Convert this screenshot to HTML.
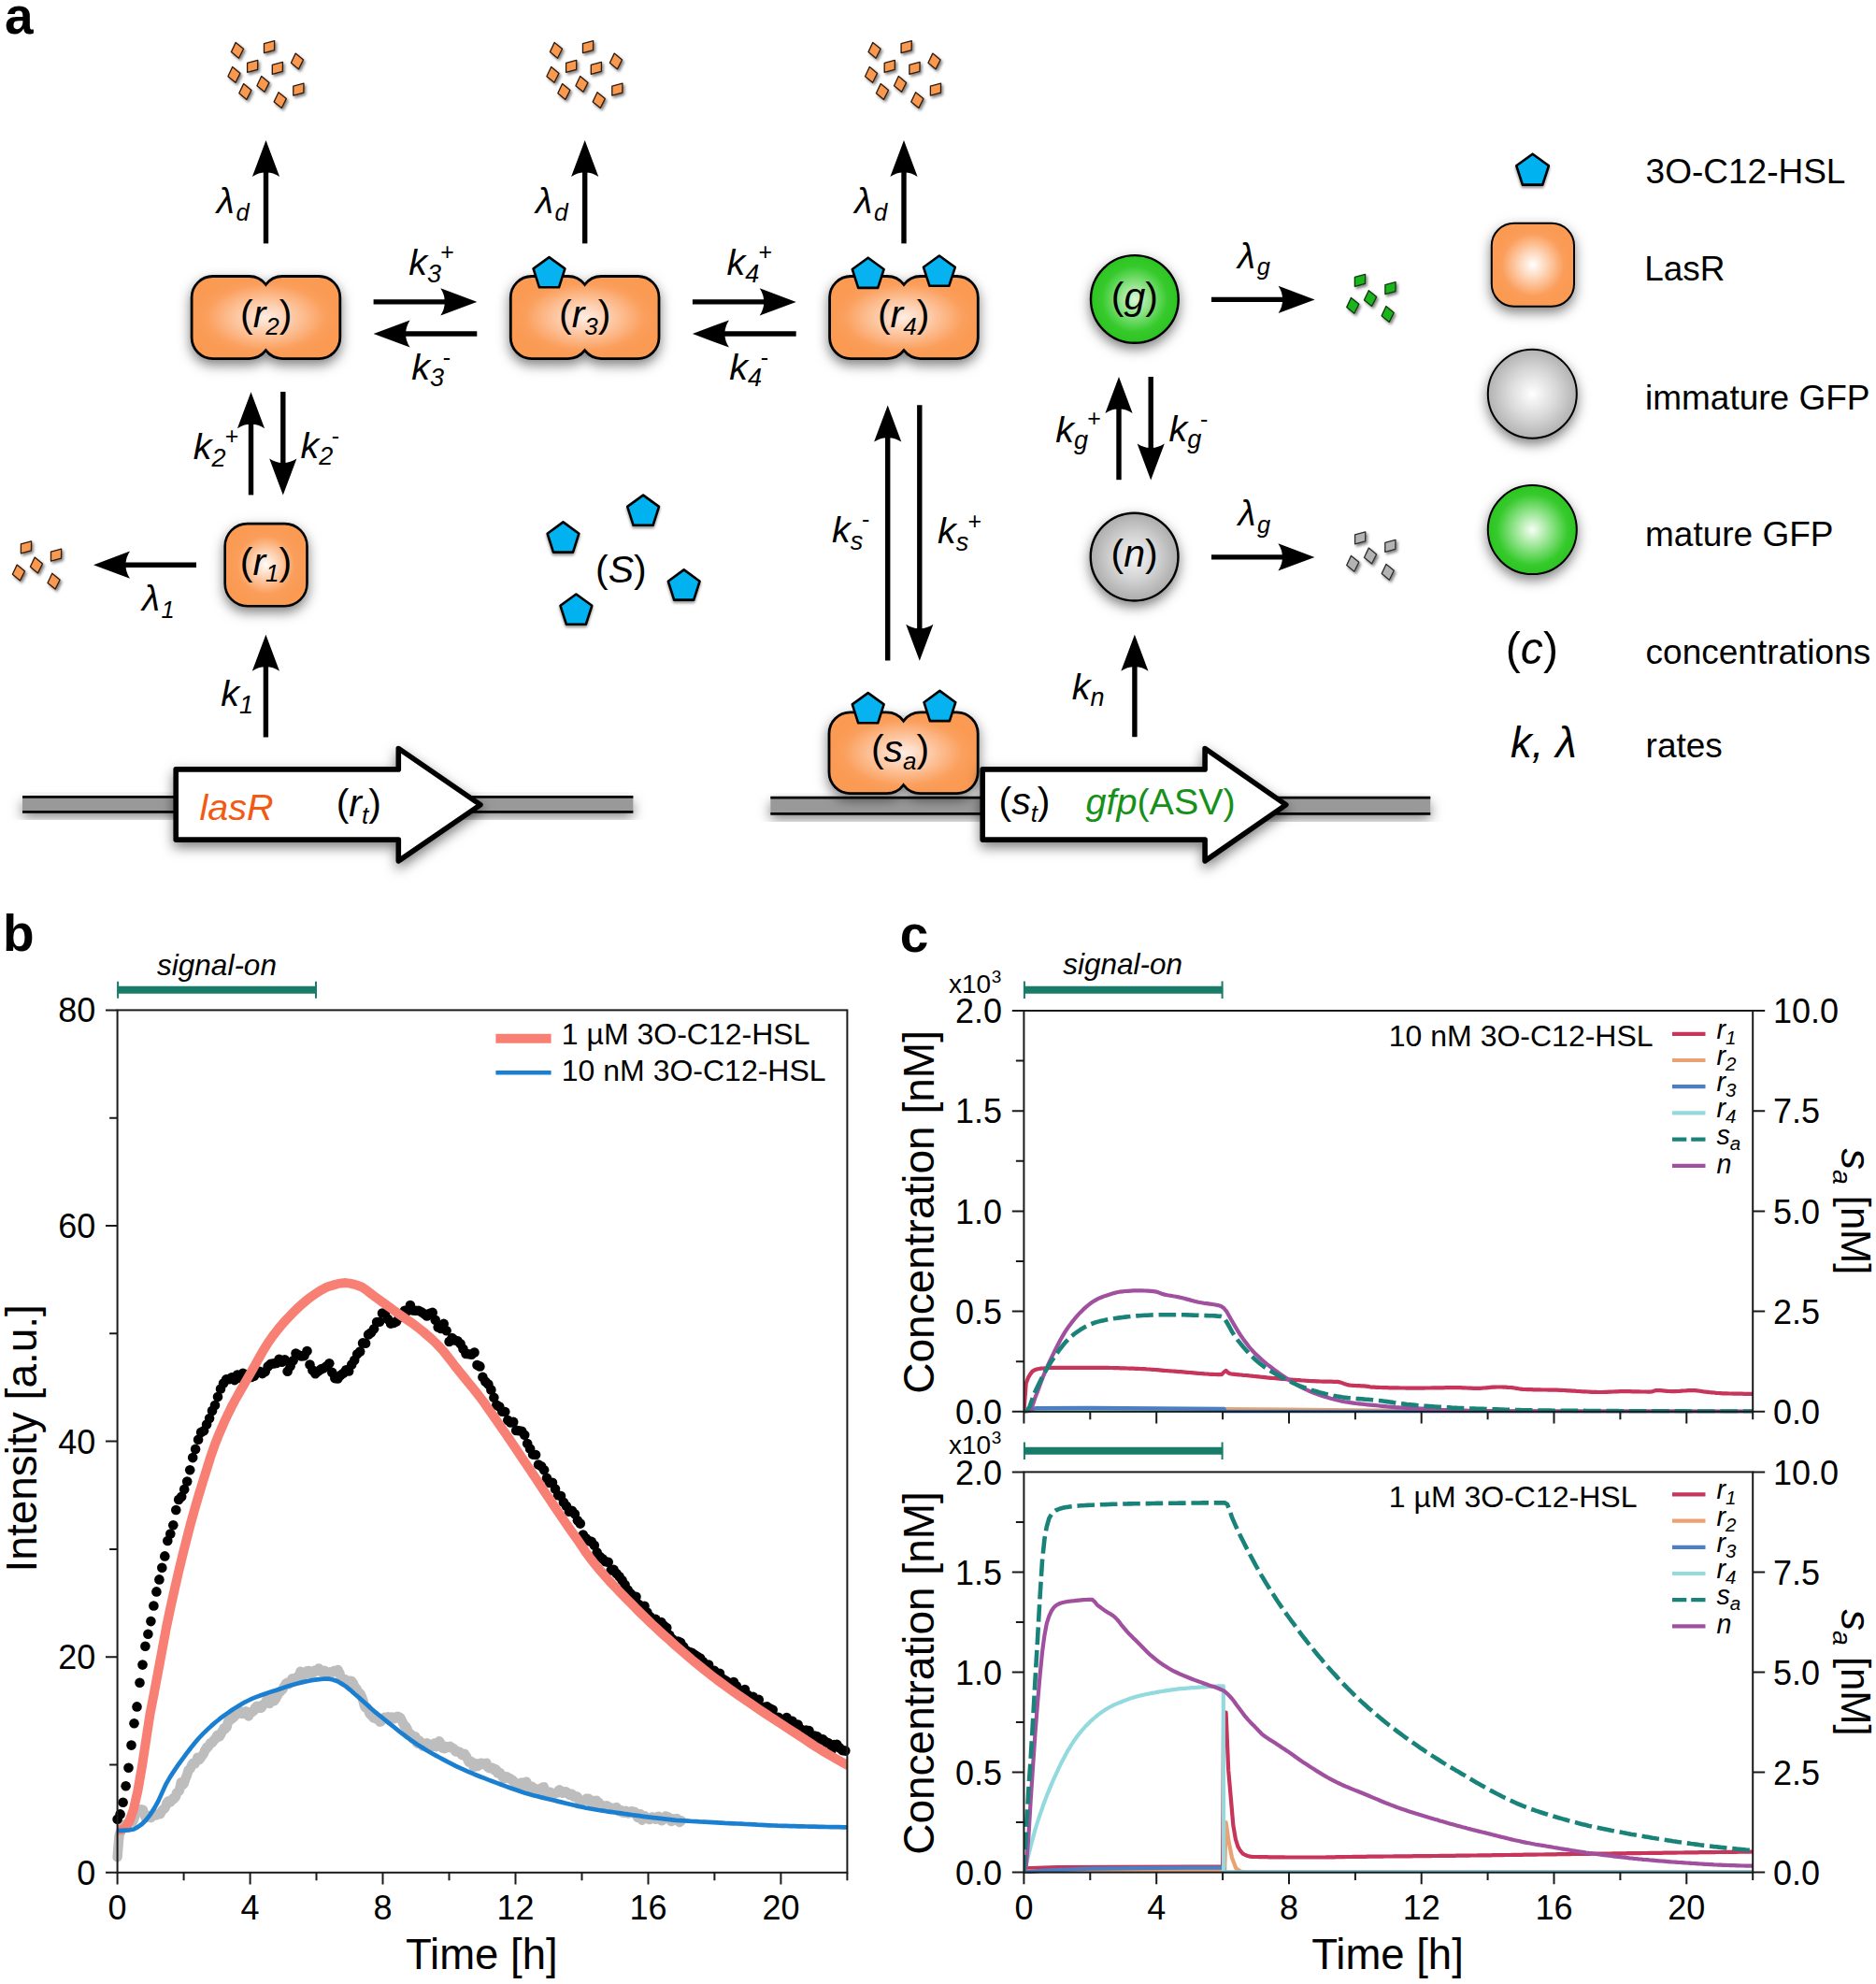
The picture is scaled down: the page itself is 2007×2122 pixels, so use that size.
<!DOCTYPE html>
<html lang="en"><head><meta charset="utf-8"><title>LasR quorum sensing model</title>
<style>html,body{margin:0;padding:0;background:#fff}svg{display:block}text{font-family:"Liberation Sans", Arial, Helvetica, sans-serif}</style>
</head><body>
<svg width="2007" height="2122" viewBox="0 0 2007 2122">
<defs>
<filter id="sh" x="-30%" y="-30%" width="160%" height="180%"><feDropShadow dx="0" dy="5.5" stdDeviation="6.2" flood-color="#000" flood-opacity="0.5"/></filter>
<filter id="sh2" x="-40%" y="-40%" width="180%" height="200%"><feDropShadow dx="0" dy="2" stdDeviation="1.6" flood-color="#000" flood-opacity="0.45"/></filter>
<filter id="sh3" x="-10%" y="-10%" width="130%" height="130%"><feDropShadow dx="1.8" dy="2.2" stdDeviation="1.5" flood-color="#000" flood-opacity="0.5"/></filter>
<radialGradient id="gO" cx="50%" cy="50%" r="50%"><stop offset="0" stop-color="#FFEDE3"/><stop offset="0.8" stop-color="#FB9F5D"/><stop offset="1" stop-color="#FA9A52"/></radialGradient>
<radialGradient id="gO1" cx="50%" cy="50%" r="50%"><stop offset="0" stop-color="#FFFCFA"/><stop offset="0.7" stop-color="#FB9E5B"/><stop offset="1" stop-color="#FA9A52"/></radialGradient>
<radialGradient id="gOL" cx="50%" cy="50%" r="50%"><stop offset="0" stop-color="#FFFFFF"/><stop offset="0.75" stop-color="#FB9E5B"/><stop offset="1" stop-color="#FA9A52"/></radialGradient>
<radialGradient id="gG" cx="50%" cy="50%" r="50%"><stop offset="0" stop-color="#DBF8D6"/><stop offset="0.75" stop-color="#36CA2C"/><stop offset="1" stop-color="#2CC422"/></radialGradient>
<radialGradient id="gGL" cx="50%" cy="50%" r="50%"><stop offset="0" stop-color="#F6FFF4"/><stop offset="0.8" stop-color="#36CA2C"/><stop offset="1" stop-color="#2CC422"/></radialGradient>
<radialGradient id="gN" cx="50%" cy="50%" r="50%"><stop offset="0" stop-color="#F4F4F4"/><stop offset="0.55" stop-color="#D0D0D0"/><stop offset="1" stop-color="#ACACAC"/></radialGradient>
<radialGradient id="gNL" cx="50%" cy="50%" r="50%"><stop offset="0" stop-color="#FFFFFF"/><stop offset="0.55" stop-color="#D8D8D8"/><stop offset="1" stop-color="#B2B2B2"/></radialGradient>
</defs>
<rect width="2007" height="2122" fill="#fff"/>
<g id="panel-a">
<text x="5" y="36" font-size="55" text-anchor="start" fill="#000" font-weight="bold">a</text>
<g filter="url(#sh3)">
<polygon points="252.2,45.4 260.5,52.3 255.5,62.2 247.4,55.6" fill="#F9984F" stroke="#2e1a0c" stroke-width="1.3" stroke-linejoin="round"/>
<polygon points="282.5,46.7 293.7,43.7 293.5,53.7 282.5,56.7" fill="#F9984F" stroke="#2e1a0c" stroke-width="1.3" stroke-linejoin="round"/>
<polygon points="316.2,57.1 324.5,64 319.5,73.9 311.4,67.3" fill="#F9984F" stroke="#2e1a0c" stroke-width="1.3" stroke-linejoin="round"/>
<polygon points="264.6,67.3 275.8,64.3 275.6,74.3 264.6,77.3" fill="#F9984F" stroke="#2e1a0c" stroke-width="1.3" stroke-linejoin="round"/>
<polygon points="291.3,69.3 302.5,66.3 302.3,76.3 291.3,79.3" fill="#F9984F" stroke="#2e1a0c" stroke-width="1.3" stroke-linejoin="round"/>
<polygon points="248.7,71.5 257,78.4 252,88.3 243.9,81.7" fill="#F9984F" stroke="#2e1a0c" stroke-width="1.3" stroke-linejoin="round"/>
<polygon points="279.7,81.5 288,88.4 283,98.3 274.9,91.7" fill="#F9984F" stroke="#2e1a0c" stroke-width="1.3" stroke-linejoin="round"/>
<polygon points="313.8,92.2 325,89.2 324.8,99.2 313.8,102.2" fill="#F9984F" stroke="#2e1a0c" stroke-width="1.3" stroke-linejoin="round"/>
<polygon points="260.6,89.6 268.9,96.5 263.9,106.4 255.8,99.8" fill="#F9984F" stroke="#2e1a0c" stroke-width="1.3" stroke-linejoin="round"/>
<polygon points="298,98.7 306.3,105.6 301.3,115.5 293.2,108.9" fill="#F9984F" stroke="#2e1a0c" stroke-width="1.3" stroke-linejoin="round"/>
<polygon points="593.2,45.4 601.5,52.3 596.5,62.2 588.4,55.6" fill="#F9984F" stroke="#2e1a0c" stroke-width="1.3" stroke-linejoin="round"/>
<polygon points="623.5,46.7 634.7,43.7 634.5,53.7 623.5,56.7" fill="#F9984F" stroke="#2e1a0c" stroke-width="1.3" stroke-linejoin="round"/>
<polygon points="657.2,57.1 665.5,64 660.5,73.9 652.4,67.3" fill="#F9984F" stroke="#2e1a0c" stroke-width="1.3" stroke-linejoin="round"/>
<polygon points="605.6,67.3 616.8,64.3 616.6,74.3 605.6,77.3" fill="#F9984F" stroke="#2e1a0c" stroke-width="1.3" stroke-linejoin="round"/>
<polygon points="632.3,69.3 643.5,66.3 643.3,76.3 632.3,79.3" fill="#F9984F" stroke="#2e1a0c" stroke-width="1.3" stroke-linejoin="round"/>
<polygon points="589.7,71.5 598,78.4 593,88.3 584.9,81.7" fill="#F9984F" stroke="#2e1a0c" stroke-width="1.3" stroke-linejoin="round"/>
<polygon points="620.7,81.5 629,88.4 624,98.3 615.9,91.7" fill="#F9984F" stroke="#2e1a0c" stroke-width="1.3" stroke-linejoin="round"/>
<polygon points="654.8,92.2 666,89.2 665.8,99.2 654.8,102.2" fill="#F9984F" stroke="#2e1a0c" stroke-width="1.3" stroke-linejoin="round"/>
<polygon points="601.6,89.6 609.9,96.5 604.9,106.4 596.8,99.8" fill="#F9984F" stroke="#2e1a0c" stroke-width="1.3" stroke-linejoin="round"/>
<polygon points="639,98.7 647.3,105.6 642.3,115.5 634.2,108.9" fill="#F9984F" stroke="#2e1a0c" stroke-width="1.3" stroke-linejoin="round"/>
<polygon points="933.8,45.4 942.1,52.3 937.1,62.2 929,55.6" fill="#F9984F" stroke="#2e1a0c" stroke-width="1.3" stroke-linejoin="round"/>
<polygon points="964.1,46.7 975.3,43.7 975.1,53.7 964.1,56.7" fill="#F9984F" stroke="#2e1a0c" stroke-width="1.3" stroke-linejoin="round"/>
<polygon points="997.8,57.1 1006.1,64 1001.1,73.9 993,67.3" fill="#F9984F" stroke="#2e1a0c" stroke-width="1.3" stroke-linejoin="round"/>
<polygon points="946.2,67.3 957.4,64.3 957.2,74.3 946.2,77.3" fill="#F9984F" stroke="#2e1a0c" stroke-width="1.3" stroke-linejoin="round"/>
<polygon points="972.9,69.3 984.1,66.3 983.9,76.3 972.9,79.3" fill="#F9984F" stroke="#2e1a0c" stroke-width="1.3" stroke-linejoin="round"/>
<polygon points="930.3,71.5 938.6,78.4 933.6,88.3 925.5,81.7" fill="#F9984F" stroke="#2e1a0c" stroke-width="1.3" stroke-linejoin="round"/>
<polygon points="961.3,81.5 969.6,88.4 964.6,98.3 956.5,91.7" fill="#F9984F" stroke="#2e1a0c" stroke-width="1.3" stroke-linejoin="round"/>
<polygon points="995.4,92.2 1006.6,89.2 1006.4,99.2 995.4,102.2" fill="#F9984F" stroke="#2e1a0c" stroke-width="1.3" stroke-linejoin="round"/>
<polygon points="942.2,89.6 950.5,96.5 945.5,106.4 937.4,99.8" fill="#F9984F" stroke="#2e1a0c" stroke-width="1.3" stroke-linejoin="round"/>
<polygon points="979.6,98.7 987.9,105.6 982.9,115.5 974.8,108.9" fill="#F9984F" stroke="#2e1a0c" stroke-width="1.3" stroke-linejoin="round"/>
<polygon points="22.4,581.8 33.6,578.8 33.4,588.8 22.4,591.8" fill="#F9984F" stroke="#2e1a0c" stroke-width="1.3" stroke-linejoin="round"/>
<polygon points="54.5,590.1 65.7,587.1 65.5,597.1 54.5,600.1" fill="#F9984F" stroke="#2e1a0c" stroke-width="1.3" stroke-linejoin="round"/>
<polygon points="37.2,596.1 45.5,603 40.5,612.9 32.4,606.3" fill="#F9984F" stroke="#2e1a0c" stroke-width="1.3" stroke-linejoin="round"/>
<polygon points="18.2,604.1 26.5,611 21.5,620.9 13.4,614.3" fill="#F9984F" stroke="#2e1a0c" stroke-width="1.3" stroke-linejoin="round"/>
<polygon points="55.8,613.3 64.1,620.2 59.1,630.1 51,623.5" fill="#F9984F" stroke="#2e1a0c" stroke-width="1.3" stroke-linejoin="round"/>
<polygon points="1449.4,296.4 1460.6,293.4 1460.4,303.4 1449.4,306.4" fill="#1DB41D" stroke="#0a3a0a" stroke-width="1.3" stroke-linejoin="round"/>
<polygon points="1481.9,304.7 1493.1,301.7 1492.9,311.7 1481.9,314.7" fill="#1DB41D" stroke="#0a3a0a" stroke-width="1.3" stroke-linejoin="round"/>
<polygon points="1464.3,310.7 1472.6,317.6 1467.6,327.5 1459.5,320.9" fill="#1DB41D" stroke="#0a3a0a" stroke-width="1.3" stroke-linejoin="round"/>
<polygon points="1445.5,318.4 1453.8,325.3 1448.8,335.2 1440.7,328.6" fill="#1DB41D" stroke="#0a3a0a" stroke-width="1.3" stroke-linejoin="round"/>
<polygon points="1482.9,327.6 1491.2,334.5 1486.2,344.4 1478.1,337.8" fill="#1DB41D" stroke="#0a3a0a" stroke-width="1.3" stroke-linejoin="round"/>
<polygon points="1449.6,571.8 1460.8,568.8 1460.6,578.8 1449.6,581.8" fill="#B3B3B3" stroke="#2e2e2e" stroke-width="1.3" stroke-linejoin="round"/>
<polygon points="1481.8,580.3 1493,577.3 1492.8,587.3 1481.8,590.3" fill="#B3B3B3" stroke="#2e2e2e" stroke-width="1.3" stroke-linejoin="round"/>
<polygon points="1464.3,586.1 1472.6,593 1467.6,602.9 1459.5,596.3" fill="#B3B3B3" stroke="#2e2e2e" stroke-width="1.3" stroke-linejoin="round"/>
<polygon points="1445.5,594.4 1453.8,601.3 1448.8,611.2 1440.7,604.6" fill="#B3B3B3" stroke="#2e2e2e" stroke-width="1.3" stroke-linejoin="round"/>
<polygon points="1483,603.4 1491.3,610.3 1486.3,620.2 1478.2,613.6" fill="#B3B3B3" stroke="#2e2e2e" stroke-width="1.3" stroke-linejoin="round"/>
</g>
<line x1="284.5" y1="260.4" x2="284.5" y2="183.6" stroke="#000" stroke-width="5.4"/><path d="M284.5 150L299.1 189Q291.5 184.2 284.5 184.6Q277.5 184.2 269.9 189Z" fill="#000"/>
<text x="231.8" y="227.9" font-size="38.6" font-style="italic">&#955;<tspan font-size="25.5" dy="7.8" dx="1.6">d</tspan></text>
<line x1="625.7" y1="260.4" x2="625.7" y2="183.6" stroke="#000" stroke-width="5.4"/><path d="M625.7 150L640.3 189Q632.7 184.2 625.7 184.6Q618.7 184.2 611.1 189Z" fill="#000"/>
<text x="573" y="227.9" font-size="38.6" font-style="italic">&#955;<tspan font-size="25.5" dy="7.8" dx="1.6">d</tspan></text>
<line x1="967" y1="260.4" x2="967" y2="183.6" stroke="#000" stroke-width="5.4"/><path d="M967 150L981.6 189Q974 184.2 967 184.6Q960 184.2 952.4 189Z" fill="#000"/>
<text x="914.3" y="227.9" font-size="38.6" font-style="italic">&#955;<tspan font-size="25.5" dy="7.8" dx="1.6">d</tspan></text>
<path d="M227.7 295.5H266.5A22.6 22.6 0 0 1 284.4 304.4A22.6 22.6 0 0 1 302.4 295.5H341.2A22.6 22.6 0 0 1 363.8 318.1V361A22.6 22.6 0 0 1 341.2 383.6H302.4A22.6 22.6 0 0 1 284.4 374.7A22.6 22.6 0 0 1 266.5 383.6H227.7A22.6 22.6 0 0 1 205.1 361V318.1A22.6 22.6 0 0 1 227.7 295.5Z" fill="url(#gO)" stroke="#000" stroke-width="2.8" filter="url(#sh)"/>
<path d="M568.9 295.5H607.7A22.6 22.6 0 0 1 625.6 304.4A22.6 22.6 0 0 1 643.6 295.5H682.4A22.6 22.6 0 0 1 705 318.1V361A22.6 22.6 0 0 1 682.4 383.6H643.6A22.6 22.6 0 0 1 625.6 374.7A22.6 22.6 0 0 1 607.7 383.6H568.9A22.6 22.6 0 0 1 546.3 361V318.1A22.6 22.6 0 0 1 568.9 295.5Z" fill="url(#gO)" stroke="#000" stroke-width="2.8" filter="url(#sh)"/>
<path d="M910.2 295.5H949A22.6 22.6 0 0 1 967 304.4A22.6 22.6 0 0 1 984.9 295.5H1023.7A22.6 22.6 0 0 1 1046.3 318.1V361A22.6 22.6 0 0 1 1023.7 383.6H984.9A22.6 22.6 0 0 1 967 374.7A22.6 22.6 0 0 1 949 383.6H910.2A22.6 22.6 0 0 1 887.6 361V318.1A22.6 22.6 0 0 1 910.2 295.5Z" fill="url(#gO)" stroke="#000" stroke-width="2.8" filter="url(#sh)"/>
<polygon points="587.5,275.1 604.4,287.4 598,307.3 577,307.3 570.6,287.4" fill="#06B3F0" stroke="#000" stroke-width="2.6" stroke-linejoin="round"/>
<polygon points="928.7,275.7 945.6,288 939.2,307.9 918.2,307.9 911.8,288" fill="#06B3F0" stroke="#000" stroke-width="2.6" stroke-linejoin="round"/>
<polygon points="1004.9,273.5 1021.8,285.8 1015.4,305.7 994.4,305.7 988,285.8" fill="#06B3F0" stroke="#000" stroke-width="2.6" stroke-linejoin="round"/>
<text x="284.7" y="350" font-size="41" text-anchor="middle" fill="#000">(<tspan font-style="italic">r</tspan><tspan font-style="italic" font-size="26" dy="7.9">2</tspan><tspan dy="-7.9">)</tspan></text>
<text x="625.7" y="350" font-size="41" text-anchor="middle" fill="#000">(<tspan font-style="italic">r</tspan><tspan font-style="italic" font-size="26" dy="7.9">3</tspan><tspan dy="-7.9">)</tspan></text>
<text x="966.6" y="350" font-size="41" text-anchor="middle" fill="#000">(<tspan font-style="italic">r</tspan><tspan font-style="italic" font-size="26" dy="7.9">4</tspan><tspan dy="-7.9">)</tspan></text>
<line x1="399.6" y1="322.9" x2="476.7" y2="322.9" stroke="#000" stroke-width="5.4"/><path d="M510.3 322.9L471.3 337.5Q476.1 329.9 475.7 322.9Q476.1 315.9 471.3 308.3Z" fill="#000"/>
<line x1="510.3" y1="357" x2="433.2" y2="357" stroke="#000" stroke-width="5.4"/><path d="M399.6 357L438.6 342.4Q433.8 350 434.2 357Q433.8 364 438.6 371.6Z" fill="#000"/>
<line x1="740.9" y1="322.9" x2="818.1" y2="322.9" stroke="#000" stroke-width="5.4"/><path d="M851.7 322.9L812.7 337.5Q817.5 329.9 817.1 322.9Q817.5 315.9 812.7 308.3Z" fill="#000"/>
<line x1="851.7" y1="357" x2="774.5" y2="357" stroke="#000" stroke-width="5.4"/><path d="M740.9 357L779.9 342.4Q775.1 350 775.5 357Q775.1 364 779.9 371.6Z" fill="#000"/>
<text x="437.2" y="294.1" font-size="39.5" font-style="italic">k<tspan font-size="27" dy="7.7">3</tspan></text>
<text x="478.5" y="277.6" font-size="25" text-anchor="middle">+</text>
<text x="440.2" y="405.7" font-size="39.5" font-style="italic">k<tspan font-size="27" dy="7.7">3</tspan></text>
<text x="477.8" y="391.2" font-size="25" text-anchor="middle">-</text>
<text x="777.5" y="294.1" font-size="39.5" font-style="italic">k<tspan font-size="27" dy="7.7">4</tspan></text>
<text x="818.8" y="277.6" font-size="25" text-anchor="middle">+</text>
<text x="780.3" y="405.7" font-size="39.5" font-style="italic">k<tspan font-size="27" dy="7.7">4</tspan></text>
<text x="817.9" y="391.2" font-size="25" text-anchor="middle">-</text>
<line x1="268.5" y1="529.4" x2="268.5" y2="452.8" stroke="#000" stroke-width="5.4"/><path d="M268.5 419.2L283.1 458.2Q275.5 453.4 268.5 453.8Q261.5 453.4 253.9 458.2Z" fill="#000"/>
<line x1="302.8" y1="419" x2="302.8" y2="496" stroke="#000" stroke-width="5.4"/><path d="M302.8 529.6L288.2 490.6Q295.8 495.4 302.8 495Q309.8 495.4 317.4 490.6Z" fill="#000"/>
<text x="206.7" y="491.1" font-size="39.5" font-style="italic">k<tspan font-size="27" dy="7.7">2</tspan></text>
<text x="248" y="474.6" font-size="25" text-anchor="middle">+</text>
<text x="321.4" y="489.6" font-size="39.5" font-style="italic">k<tspan font-size="27" dy="7.7">2</tspan></text>
<text x="359" y="475.1" font-size="25" text-anchor="middle">-</text>
<rect x="240.7" y="560.1" width="87.8" height="88.1" rx="24" fill="url(#gO1)" stroke="#000" stroke-width="2.6" filter="url(#sh)"/>
<text x="284.5" y="614.5" font-size="41" text-anchor="middle" fill="#000">(<tspan font-style="italic">r</tspan><tspan font-style="italic" font-size="26" dy="7.9">1</tspan><tspan dy="-7.9">)</tspan></text>
<line x1="210" y1="604.2" x2="133.6" y2="604.2" stroke="#000" stroke-width="5.4"/><path d="M100 604.2L139 589.6Q134.2 597.2 134.6 604.2Q134.2 611.2 139 618.8Z" fill="#000"/>
<text x="152" y="653.2" font-size="38.6" font-style="italic">&#955;<tspan font-size="25.5" dy="7.8" dx="1.6">1</tspan></text>
<line x1="284.4" y1="788.5" x2="284.4" y2="712.3" stroke="#000" stroke-width="5.4"/><path d="M284.4 678.7L299 717.7Q291.4 712.9 284.4 713.3Q277.4 712.9 269.8 717.7Z" fill="#000"/>
<text x="236.2" y="754.9" font-size="39.5" font-style="italic">k<tspan font-size="27" dy="7.7">1</tspan></text>
<polygon points="602.5,558.4 619.4,570.7 613,590.6 592,590.6 585.6,570.7" fill="#06B3F0" stroke="#000" stroke-width="2.6" stroke-linejoin="round" filter="url(#sh2)"/>
<polygon points="688.1,529.6 705,541.9 698.6,561.8 677.6,561.8 671.2,541.9" fill="#06B3F0" stroke="#000" stroke-width="2.6" stroke-linejoin="round" filter="url(#sh2)"/>
<polygon points="731.7,609.4 748.6,621.7 742.2,641.6 721.2,641.6 714.8,621.7" fill="#06B3F0" stroke="#000" stroke-width="2.6" stroke-linejoin="round" filter="url(#sh2)"/>
<polygon points="616.4,635.5 633.3,647.8 626.9,667.7 605.9,667.7 599.5,647.8" fill="#06B3F0" stroke="#000" stroke-width="2.6" stroke-linejoin="round" filter="url(#sh2)"/>
<text x="664.4" y="622.8" font-size="41" text-anchor="middle" fill="#000">(<tspan font-style="italic">S</tspan>)</text>
<line x1="949.7" y1="706.5" x2="949.7" y2="467.2" stroke="#000" stroke-width="5.4"/><path d="M949.7 433.6L964.3 472.6Q956.7 467.8 949.7 468.2Q942.7 467.8 935.1 472.6Z" fill="#000"/>
<line x1="983.8" y1="433.3" x2="983.8" y2="673.2" stroke="#000" stroke-width="5.4"/><path d="M983.8 706.8L969.2 667.8Q976.8 672.6 983.8 672.2Q990.8 672.6 998.4 667.8Z" fill="#000"/>
<text x="890.1" y="580.3" font-size="39.5" font-style="italic">k<tspan font-size="27" dy="7.7">s</tspan></text>
<text x="926.2" y="564.1" font-size="25" text-anchor="middle">-</text>
<text x="1003" y="581.3" font-size="39.5" font-style="italic">k<tspan font-size="27" dy="7.7">s</tspan></text>
<text x="1042.8" y="566.1" font-size="25" text-anchor="middle">+</text>
<circle cx="1213.85" cy="319.95" r="46.85" fill="url(#gG)" stroke="#000" stroke-width="2.4" filter="url(#sh)"/>
<text x="1213.8" y="330.5" font-size="41" text-anchor="middle" fill="#000">(<tspan font-style="italic">g</tspan>)</text>
<circle cx="1213.6" cy="595.6" r="46.85" fill="url(#gN)" stroke="#000" stroke-width="2.4" filter="url(#sh)"/>
<text x="1213.6" y="606.2" font-size="41" text-anchor="middle" fill="#000">(<tspan font-style="italic">n</tspan>)</text>
<line x1="1197" y1="513.2" x2="1197" y2="436.6" stroke="#000" stroke-width="5.4"/><path d="M1197 403L1211.6 442Q1204 437.2 1197 437.6Q1190 437.2 1182.4 442Z" fill="#000"/>
<line x1="1231.2" y1="403" x2="1231.2" y2="479.9" stroke="#000" stroke-width="5.4"/><path d="M1231.2 513.5L1216.6 474.5Q1224.2 479.3 1231.2 478.9Q1238.2 479.3 1245.8 474.5Z" fill="#000"/>
<text x="1129.3" y="472.7" font-size="39.5" font-style="italic">k<tspan font-size="27" dy="7.7">g</tspan></text>
<text x="1170.6" y="456.2" font-size="25" text-anchor="middle">+</text>
<text x="1250.5" y="471.6" font-size="39.5" font-style="italic">k<tspan font-size="27" dy="7.7">g</tspan></text>
<text x="1288.1" y="457.1" font-size="25" text-anchor="middle">-</text>
<line x1="1296" y1="320.4" x2="1373" y2="320.4" stroke="#000" stroke-width="5.4"/><path d="M1406.6 320.4L1367.6 335Q1372.4 327.4 1372 320.4Q1372.4 313.4 1367.6 305.8Z" fill="#000"/>
<line x1="1296" y1="595.9" x2="1372.8" y2="595.9" stroke="#000" stroke-width="5.4"/><path d="M1406.4 595.9L1367.4 610.5Q1372.2 602.9 1371.8 595.9Q1372.2 588.9 1367.4 581.3Z" fill="#000"/>
<text x="1324.1" y="286.5" font-size="38.6" font-style="italic">&#955;<tspan font-size="25.5" dy="7.8" dx="1.6">g</tspan></text>
<text x="1324.4" y="561.8" font-size="38.6" font-style="italic">&#955;<tspan font-size="25.5" dy="7.8" dx="1.6">g</tspan></text>
<line x1="1213.9" y1="788.2" x2="1213.9" y2="712.3" stroke="#000" stroke-width="5.4"/><path d="M1213.9 678.7L1228.5 717.7Q1220.9 712.9 1213.9 713.3Q1206.9 712.9 1199.3 717.7Z" fill="#000"/>
<text x="1146.8" y="747.7" font-size="39.5" font-style="italic">k<tspan font-size="27" dy="7.7">n</tspan></text>
<rect x="24" y="852.3" width="653.4" height="16.1" fill="#999" filter="url(#sh)"/>
<path d="M24 852.3H677.4M24 868.4H677.4" stroke="#000" stroke-width="2.8" fill="none"/>
<rect x="824.3" y="853.2" width="706" height="17.1" fill="#999" filter="url(#sh)"/>
<path d="M824.3 853.2H1530.3M824.3 870.3H1530.3" stroke="#000" stroke-width="2.8" fill="none"/>
<path d="M909.6 761.9H948.4A22.6 22.6 0 0 1 966.6 771.1A22.6 22.6 0 0 1 984.8 761.9H1023.6A22.6 22.6 0 0 1 1046.2 784.5V826.1A22.6 22.6 0 0 1 1023.6 848.7H984.8A22.6 22.6 0 0 1 966.6 839.5A22.6 22.6 0 0 1 948.4 848.7H909.6A22.6 22.6 0 0 1 887 826.1V784.5A22.6 22.6 0 0 1 909.6 761.9Z" fill="url(#gO)" stroke="#000" stroke-width="2.8" filter="url(#sh)"/>
<polygon points="928.7,741.1 945.6,753.4 939.2,773.3 918.2,773.3 911.8,753.4" fill="#06B3F0" stroke="#000" stroke-width="2.6" stroke-linejoin="round"/>
<polygon points="1005.4,738.9 1022.3,751.2 1015.9,771.1 994.9,771.1 988.5,751.2" fill="#06B3F0" stroke="#000" stroke-width="2.6" stroke-linejoin="round"/>
<text x="963.1" y="815" font-size="41" text-anchor="middle" fill="#000">(<tspan font-style="italic">s</tspan><tspan font-style="italic" font-size="26" dy="7.9">a</tspan><tspan dy="-7.9">)</tspan></text>
<path d="M188.2 822.9H426.3V800.5L514 860.7L426.3 920.9V898.1H188.2Z" fill="#fff" stroke="#000" stroke-width="5.6" stroke-linejoin="round" filter="url(#sh)"/>
<path d="M1051.2 822.9H1289.1V800.5L1375.8 860.7L1289.1 920.9V898.1H1051.2Z" fill="#fff" stroke="#000" stroke-width="5.6" stroke-linejoin="round" filter="url(#sh)"/>
<text x="213.6" y="877.4" font-size="39.5" text-anchor="start" fill="#F25A14" font-style="italic">lasR</text>
<text x="383.8" y="873.2" font-size="41" text-anchor="middle" fill="#000">(<tspan font-style="italic">r</tspan><tspan font-style="italic" font-size="26" dy="7.9">t</tspan><tspan dy="-7.9">)</tspan></text>
<text x="1096" y="871.2" font-size="41" text-anchor="middle" fill="#000">(<tspan font-style="italic">s</tspan><tspan font-style="italic" font-size="26" dy="7.9">t</tspan><tspan dy="-7.9">)</tspan></text>
<text x="1161.5" y="871.2" font-size="39.5" text-anchor="start" fill="#17901A"><tspan font-style="italic">gfp</tspan>(ASV)</text>
<polygon points="1639.6,164.7 1656.9,177.3 1650.3,197.6 1628.9,197.6 1622.3,177.3" fill="#06B3F0" stroke="#000" stroke-width="2.6" stroke-linejoin="round" filter="url(#sh2)"/>
<rect x="1595.8" y="238.7" width="88.2" height="89" rx="24" fill="url(#gOL)" stroke="#000" stroke-width="2" filter="url(#sh)"/>
<circle cx="1639.3" cy="421.2" r="47.5" fill="url(#gNL)" stroke="#000" stroke-width="2" filter="url(#sh)"/>
<circle cx="1639.3" cy="566.6" r="47.5" fill="url(#gGL)" stroke="#000" stroke-width="2" filter="url(#sh)"/>
<text x="1760.6" y="196.4" font-size="37" text-anchor="start" fill="#000">3O-C12-HSL</text>
<text x="1759.2" y="300.4" font-size="37" text-anchor="start" fill="#000">LasR</text>
<text x="1760" y="437.8" font-size="37" text-anchor="start" fill="#000">immature GFP</text>
<text x="1760" y="583.5" font-size="37" text-anchor="start" fill="#000">mature GFP</text>
<text x="1760.6" y="710" font-size="37" text-anchor="start" fill="#000">concentrations</text>
<text x="1760.6" y="810" font-size="37" text-anchor="start" fill="#000">rates</text>
<text x="1638.9" y="710" font-size="48.2" text-anchor="middle" fill="#000">(<tspan font-style="italic">c</tspan>)</text>
<text x="1616" y="810" font-size="45.7" text-anchor="start" fill="#000" font-style="italic">k, &#955;</text>
</g>
<g id="panel-b">
<text x="3" y="1017.3" font-size="55" text-anchor="start" fill="#000" font-weight="bold">b</text>
<polyline points="125.6,1986.4 126.6,1973.8 127.5,1963.4 128.5,1960.4 129.5,1958.6 130.5,1955.9 131.4,1953.6 132.4,1951.5 133.4,1951.6 134.4,1950.9 135.3,1950.9 136.3,1951.9 137.3,1950.4 138.3,1949.1 139.2,1945.8 140.2,1947.2 141.2,1948.2 142.2,1948.5 143.1,1946.1 144.1,1942.9 145.1,1940.6 146.1,1938.2 147,1937.8 148,1936.4 149,1935.9 150,1936 150.9,1935.3 151.9,1936.2 152.9,1935.7 153.9,1939.3 154.8,1941.8 155.8,1944.2 156.8,1944 157.8,1942.6 158.7,1942 159.7,1942.2 160.7,1943.6 161.7,1944.1 162.6,1942.2 163.6,1941.8 164.6,1940.7 165.6,1941.2 166.5,1941.5 167.5,1941.4 168.5,1940.1 169.5,1940 170.4,1939.7 171.4,1940.3 172.4,1938.2 173.4,1936.5 174.3,1935.5 175.3,1935.2 176.3,1933.9 177.3,1932.2 178.2,1928.9 179.2,1927.2 180.2,1926.4 181.2,1926.1 182.1,1927.6 183.1,1926.1 184.1,1925.6 185.1,1923.5 186,1924 187,1922.9 188,1921.6 189,1917.5 189.9,1916.9 190.9,1916.1 191.9,1915.4 192.9,1910.1 193.8,1906.3 194.8,1906.7 195.8,1908.8 196.8,1907.4 197.7,1904.6 198.7,1901.7 199.7,1899.5 200.7,1896.2 201.6,1893.4 202.6,1892.6 203.6,1891.8 204.6,1889 205.5,1887.2 206.5,1885.8 207.5,1885.5 208.5,1886.4 209.4,1884.4 210.4,1882.8 211.4,1879.6 212.3,1881.7 213.3,1882.1 214.3,1880.7 215.3,1879.4 216.2,1877.9 217.2,1876.6 218.2,1874.9 219.2,1872 220.1,1871.3 221.1,1868.9 222.1,1869 223.1,1867.7 224,1866.3 225,1864.3 226,1864.5 227,1863.9 227.9,1862.8 228.9,1861 229.9,1860.4 230.9,1859.5 231.8,1857 232.8,1855.6 233.8,1856.8 234.8,1857.4 235.7,1856 236.7,1853.9 237.7,1851.3 238.7,1851 239.6,1848.2 240.6,1849.5 241.6,1847.9 242.6,1847.2 243.5,1843.5 244.5,1840.5 245.5,1839.5 246.5,1839.3 247.4,1839 248.4,1837.9 249.4,1837.3 250.4,1836.3 251.3,1835.4 252.3,1834.4 253.3,1833.1 254.3,1832.4 255.2,1829.8 256.2,1829.8 257.2,1830.4 258.2,1832.6 259.1,1833 260.1,1831.6 261.1,1831.6 262.1,1831.2 263,1830.3 264,1832.5 265,1834 266,1835.5 266.9,1832.6 267.9,1831.3 268.9,1831.7 269.9,1831 270.8,1830.2 271.8,1829.5 272.8,1826.8 273.8,1825.7 274.7,1824.8 275.7,1826.3 276.7,1826 277.7,1824.8 278.6,1826.8 279.6,1826.6 280.6,1825.1 281.6,1823.2 282.5,1822.4 283.5,1822.1 284.5,1819.7 285.5,1817.8 286.4,1820 287.4,1820.8 288.4,1822.1 289.4,1819.3 290.3,1817.2 291.3,1818.8 292.3,1817.6 293.3,1819.3 294.2,1815.2 295.2,1816.9 296.2,1814.4 297.1,1813 298.1,1810.8 299.1,1809.9 300.1,1809.4 301,1808.1 302,1807.3 303,1805.6 304,1803.6 304.9,1802.7 305.9,1800.5 306.9,1801.6 307.9,1799.4 308.8,1801.4 309.8,1799.2 310.8,1798.3 311.8,1796.8 312.7,1795.3 313.7,1796.5 314.7,1797.2 315.7,1796.3 316.6,1795 317.6,1793.8 318.6,1795.4 319.6,1792.8 320.5,1790.7 321.5,1787.6 322.5,1789.4 323.5,1789.9 324.4,1792.3 325.4,1790.4 326.4,1788.7 327.4,1788.3 328.3,1787.3 329.3,1787.8 330.3,1787 331.3,1790.4 332.2,1789.9 333.2,1789.7 334.2,1788.2 335.2,1789.1 336.1,1788.5 337.1,1786.4 338.1,1787.7 339.1,1786.9 340,1786.9 341,1784.4 342,1785.7 343,1787.8 343.9,1788.3 344.9,1788 345.9,1787.1 346.9,1786.7 347.8,1787.1 348.8,1789.6 349.8,1791.4 350.8,1793 351.7,1790 352.7,1789.4 353.7,1788.3 354.7,1789.2 355.6,1788.8 356.6,1788.2 357.6,1787 358.6,1788 359.5,1787.2 360.5,1787.2 361.5,1785.9 362.5,1788.1 363.4,1789.4 364.4,1793.6 365.4,1794.8 366.4,1798.4 367.3,1796.4 368.3,1797.4 369.3,1796.2 370.3,1798.2 371.2,1797.6 372.2,1798.8 373.2,1798.9 374.2,1797.7 375.1,1797.7 376.1,1798 377.1,1799.5 378,1800.5 379,1803.1 380,1805.6 381,1805.6 381.9,1807.5 382.9,1809.2 383.9,1811.2 384.9,1810.8 385.8,1812.2 386.8,1814.4 387.8,1817 388.8,1820 389.7,1823.9 390.7,1826.2 391.7,1825.6 392.7,1826.1 393.6,1827.8 394.6,1830.8 395.6,1833.1 396.6,1833.5 397.5,1835.1 398.5,1834.2 399.5,1837.3 400.5,1836.5 401.4,1838.1 402.4,1838.4 403.4,1838.6 404.4,1838.9 405.3,1839.7 406.3,1841.7 407.3,1841.5 408.3,1840 409.2,1838.5 410.2,1838 411.2,1836.9 412.2,1837.3 413.1,1836.6 414.1,1836.6 415.1,1836.3 416.1,1839.6 417,1839.3 418,1838.3 419,1836.4 420,1837.7 420.9,1837 421.9,1838.3 422.9,1837.3 423.9,1836.8 424.8,1836 425.8,1835.9 426.8,1836.8 427.8,1836.8 428.7,1837.9 429.7,1840 430.7,1842.1 431.7,1844.2 432.6,1846.2 433.6,1846 434.6,1847.3 435.6,1849 436.5,1852.1 437.5,1853.8 438.5,1854.2 439.5,1854.7 440.4,1856.6 441.4,1859.8 442.4,1858.6 443.4,1857.7 444.3,1857.2 445.3,1863.1 446.3,1864.3 447.3,1865 448.2,1861.4 449.2,1862.2 450.2,1863.2 451.2,1864.8 452.1,1867.5 453.1,1866.8 454.1,1867.2 455.1,1866.1 456,1865.8 457,1864.4 458,1865 459,1867 459.9,1868.5 460.9,1866.9 461.9,1866.7 462.8,1867.9 463.8,1866 464.8,1864.6 465.8,1864.8 466.7,1868.2 467.7,1867.6 468.7,1865.4 469.7,1862.3 470.6,1863.2 471.6,1865 472.6,1866.6 473.6,1869.7 474.5,1869.7 475.5,1870.3 476.5,1867.9 477.5,1868.1 478.4,1868.5 479.4,1868.9 480.4,1868.2 481.4,1867.8 482.3,1868.4 483.3,1869.4 484.3,1869.6 485.3,1870.2 486.2,1871.1 487.2,1873 488.2,1873.5 489.2,1873.4 490.1,1873.2 491.1,1873.8 492.1,1874.1 493.1,1875.1 494,1876.9 495,1877.3 496,1876.8 497,1875.8 497.9,1877.2 498.9,1878.6 499.9,1880.9 500.9,1883.4 501.8,1884.7 502.8,1885.5 503.8,1883.7 504.8,1885.5 505.7,1887.8 506.7,1890 507.7,1887.8 508.7,1885.9 509.6,1886.6 510.6,1889.2 511.6,1888.6 512.6,1887 513.5,1886.3 514.5,1885.6 515.5,1885.6 516.5,1886.1 517.4,1887.2 518.4,1886.6 519.4,1885.9 520.4,1885.8 521.3,1888.9 522.3,1890.5 523.3,1891.3 524.3,1891.1 525.2,1890.6 526.2,1891.4 527.2,1891 528.2,1893 529.1,1891.9 530.1,1892.3 531.1,1893.1 532.1,1896.3 533,1895.6 534,1896.4 535,1896.3 536,1898.4 536.9,1898.5 537.9,1901 538.9,1902.1 539.9,1902.2 540.8,1900.3 541.8,1900.1 542.8,1900.8 543.8,1901.4 544.7,1902 545.7,1902.1 546.7,1903.2 547.6,1904.3 548.6,1904.1 549.6,1905.5 550.6,1906.2 551.5,1907.2 552.5,1907.9 553.5,1908 554.5,1910.2 555.4,1909.8 556.4,1909.1 557.4,1906.8 558.4,1906.5 559.3,1907.6 560.3,1909.8 561.3,1908.3 562.3,1907.8 563.2,1905.6 564.2,1908.6 565.2,1909.5 566.2,1912.7 567.1,1911.3 568.1,1910.5 569.1,1910.8 570.1,1911.9 571,1912.5 572,1912.6 573,1914.6 574,1916.6 574.9,1915.7 575.9,1915.6 576.9,1914.8 577.9,1914.2 578.8,1912.6 579.8,1912.3 580.8,1911.4 581.8,1911.3 582.7,1913.6 583.7,1916 584.7,1918.6 585.7,1918.7 586.6,1918.6 587.6,1917.9 588.6,1916.6 589.6,1918.3 590.5,1919.7 591.5,1920.3 592.5,1918.9 593.5,1917.9 594.4,1917.6 595.4,1917.8 596.4,1916.3 597.4,1915.4 598.3,1914.3 599.3,1915.1 600.3,1915.3 601.3,1917.6 602.2,1917.8 603.2,1917.7 604.2,1916.9 605.2,1916.2 606.1,1916.8 607.1,1917.4 608.1,1918.6 609.1,1919.9 610,1918.8 611,1918.6 612,1918.8 613,1920.6 613.9,1921.8 614.9,1922.2 615.9,1921.1 616.9,1921.1 617.8,1922.1 618.8,1924.5 619.8,1925.6 620.8,1926 621.7,1926.1 622.7,1926.2 623.7,1926.3 624.7,1925.4 625.6,1925.1 626.6,1925.4 627.6,1923.6 628.6,1924.7 629.5,1923.6 630.5,1926.1 631.5,1925 632.4,1928.7 633.4,1929.9 634.4,1931.1 635.4,1928.5 636.3,1925.9 637.3,1926.1 638.3,1925.8 639.3,1927.7 640.2,1927.4 641.2,1928.5 642.2,1929.7 643.2,1930.5 644.1,1932.4 645.1,1931.4 646.1,1933.2 647.1,1932.2 648,1931.6 649,1931.2 650,1931.7 651,1932.9 651.9,1933 652.9,1934.1 653.9,1935.3 654.9,1935 655.8,1933.8 656.8,1935.1 657.8,1934.2 658.8,1933.5 659.7,1933 660.7,1934.7 661.7,1937.1 662.7,1935.9 663.6,1937.2 664.6,1936.3 665.6,1938.4 666.6,1938.7 667.5,1938.9 668.5,1937.3 669.5,1936.9 670.5,1938.5 671.4,1939.2 672.4,1939.5 673.4,1938.7 674.4,1938.3 675.3,1937.3 676.3,1938.3 677.3,1937.8 678.3,1939.1 679.2,1938 680.2,1941.1 681.2,1941.3 682.2,1944 683.1,1941.8 684.1,1940.5 685.1,1940.2 686.1,1943.6 687,1946.7 688,1944.5 689,1943.6 690,1942.3 690.9,1943.9 691.9,1943.7 692.9,1944.9 693.9,1944.7 694.8,1946.1 695.8,1945.3 696.8,1945.1 697.8,1943.4 698.7,1943.7 699.7,1945 700.7,1945.4 701.7,1945.8 702.6,1943.5 703.6,1943 704.6,1942.7 705.6,1944.8 706.5,1946.3 707.5,1947.2 708.5,1947.2 709.5,1946.3 710.4,1944.9 711.4,1944.1 712.4,1942.4 713.4,1943.6 714.3,1944.3 715.3,1943.6 716.3,1944.8 717.2,1945.4 718.2,1948.1 719.2,1946.1 720.2,1945.3 721.1,1945.7 722.1,1945.6 723.1,1946 724.1,1945 725,1947.3 726,1948.2 727,1949 728,1948.2 728.9,1947.3" fill="none" stroke="#BDBDBD" stroke-width="10.4" stroke-linejoin="round" stroke-linecap="round"/>
<g fill="#000">
<circle cx="125.6" cy="1945.7" r="5.3"/><circle cx="128.6" cy="1940.4" r="5.3"/><circle cx="131.6" cy="1927.8" r="5.3"/><circle cx="134.6" cy="1910.2" r="5.3"/><circle cx="137.5" cy="1890.8" r="5.3"/><circle cx="140.5" cy="1866.6" r="5.3"/><circle cx="143.5" cy="1843.3" r="5.3"/><circle cx="146.5" cy="1825.4" r="5.3"/><circle cx="149.5" cy="1799.8" r="5.3"/><circle cx="152.5" cy="1780.6" r="5.3"/><circle cx="155.4" cy="1760.7" r="5.3"/><circle cx="158.4" cy="1747.7" r="5.3"/><circle cx="161.4" cy="1734.1" r="5.3"/><circle cx="164.4" cy="1717.5" r="5.3"/><circle cx="167.4" cy="1702.4" r="5.3"/><circle cx="170.4" cy="1689.4" r="5.3"/><circle cx="173.3" cy="1676.7" r="5.3"/><circle cx="176.3" cy="1664.4" r="5.3"/><circle cx="179.3" cy="1648" r="5.3"/><circle cx="182.3" cy="1640.6" r="5.3"/><circle cx="185.3" cy="1631.3" r="5.3"/><circle cx="188.3" cy="1615" r="5.3"/><circle cx="191.2" cy="1603.9" r="5.3"/><circle cx="194.2" cy="1600.7" r="5.3"/><circle cx="197.2" cy="1592.9" r="5.3"/><circle cx="200.2" cy="1584.5" r="5.3"/><circle cx="203.2" cy="1572.2" r="5.3"/><circle cx="206.2" cy="1559.1" r="5.3"/><circle cx="209.1" cy="1549.9" r="5.3"/><circle cx="212.1" cy="1539.7" r="5.3"/><circle cx="215.1" cy="1531.9" r="5.3"/><circle cx="218.1" cy="1530.3" r="5.3"/><circle cx="221.1" cy="1523.5" r="5.3"/><circle cx="224.1" cy="1517.1" r="5.3"/><circle cx="227" cy="1508.9" r="5.3"/><circle cx="230" cy="1503.1" r="5.3"/><circle cx="233" cy="1494.1" r="5.3"/><circle cx="236" cy="1485.5" r="5.3"/><circle cx="239" cy="1479.5" r="5.3"/><circle cx="242" cy="1475.4" r="5.3"/><circle cx="244.9" cy="1475.2" r="5.3"/><circle cx="247.9" cy="1473.3" r="5.3"/><circle cx="250.9" cy="1476.1" r="5.3"/><circle cx="253.9" cy="1470.5" r="5.3"/><circle cx="256.9" cy="1473.9" r="5.3"/><circle cx="259.9" cy="1468.8" r="5.3"/><circle cx="262.8" cy="1470.3" r="5.3"/><circle cx="265.8" cy="1472.2" r="5.3"/><circle cx="268.8" cy="1473" r="5.3"/><circle cx="271.8" cy="1471.7" r="5.3"/><circle cx="274.8" cy="1468.4" r="5.3"/><circle cx="277.8" cy="1466.9" r="5.3"/><circle cx="280.7" cy="1469.1" r="5.3"/><circle cx="283.7" cy="1467" r="5.3"/><circle cx="286.7" cy="1461.4" r="5.3"/><circle cx="289.7" cy="1458.8" r="5.3"/><circle cx="292.7" cy="1458.4" r="5.3"/><circle cx="295.7" cy="1457.9" r="5.3"/><circle cx="298.6" cy="1453.8" r="5.3"/><circle cx="301.6" cy="1456.7" r="5.3"/><circle cx="304.6" cy="1454.2" r="5.3"/><circle cx="307.6" cy="1466.7" r="5.3"/><circle cx="310.6" cy="1461.2" r="5.3"/><circle cx="313.6" cy="1455.2" r="5.3"/><circle cx="316.5" cy="1447.6" r="5.3"/><circle cx="319.5" cy="1449.2" r="5.3"/><circle cx="322.5" cy="1450.4" r="5.3"/><circle cx="325.5" cy="1450.1" r="5.3"/><circle cx="328.5" cy="1445" r="5.3"/><circle cx="331.5" cy="1459.5" r="5.3"/><circle cx="334.4" cy="1465.4" r="5.3"/><circle cx="337.4" cy="1469.2" r="5.3"/><circle cx="340.4" cy="1466.6" r="5.3"/><circle cx="343.4" cy="1464.4" r="5.3"/><circle cx="346.4" cy="1463.2" r="5.3"/><circle cx="349.4" cy="1461.2" r="5.3"/><circle cx="352.3" cy="1458.2" r="5.3"/><circle cx="355.3" cy="1467.9" r="5.3"/><circle cx="358.3" cy="1474.1" r="5.3"/><circle cx="361.3" cy="1474.4" r="5.3"/><circle cx="364.3" cy="1470.9" r="5.3"/><circle cx="367.3" cy="1468.8" r="5.3"/><circle cx="370.2" cy="1465.3" r="5.3"/><circle cx="373.2" cy="1466.4" r="5.3"/><circle cx="376.2" cy="1459.4" r="5.3"/><circle cx="379.2" cy="1454.7" r="5.3"/><circle cx="382.2" cy="1448.2" r="5.3"/><circle cx="385.2" cy="1445.5" r="5.3"/><circle cx="388.1" cy="1436.4" r="5.3"/><circle cx="391.1" cy="1436.8" r="5.3"/><circle cx="394.1" cy="1427.4" r="5.3"/><circle cx="397.1" cy="1425.3" r="5.3"/><circle cx="400.1" cy="1421.2" r="5.3"/><circle cx="403.1" cy="1414" r="5.3"/><circle cx="406" cy="1413.8" r="5.3"/><circle cx="409" cy="1404.5" r="5.3"/><circle cx="412" cy="1404.5" r="5.3"/><circle cx="415" cy="1410.9" r="5.3"/><circle cx="418" cy="1415.6" r="5.3"/><circle cx="421" cy="1415" r="5.3"/><circle cx="423.9" cy="1413.6" r="5.3"/><circle cx="426.9" cy="1409.5" r="5.3"/><circle cx="429.9" cy="1408.1" r="5.3"/><circle cx="432.9" cy="1401.7" r="5.3"/><circle cx="435.9" cy="1402.1" r="5.3"/><circle cx="438.9" cy="1396.1" r="5.3"/><circle cx="441.8" cy="1401.4" r="5.3"/><circle cx="444.8" cy="1401.8" r="5.3"/><circle cx="447.8" cy="1401.8" r="5.3"/><circle cx="450.8" cy="1403.3" r="5.3"/><circle cx="453.8" cy="1405.2" r="5.3"/><circle cx="456.8" cy="1407.4" r="5.3"/><circle cx="459.7" cy="1404.8" r="5.3"/><circle cx="462.7" cy="1403.9" r="5.3"/><circle cx="465.7" cy="1411.7" r="5.3"/><circle cx="468.7" cy="1419.5" r="5.3"/><circle cx="471.7" cy="1420.9" r="5.3"/><circle cx="474.7" cy="1415.9" r="5.3"/><circle cx="477.6" cy="1423.2" r="5.3"/><circle cx="480.6" cy="1434.9" r="5.3"/><circle cx="483.6" cy="1431.1" r="5.3"/><circle cx="486.6" cy="1433.4" r="5.3"/><circle cx="489.6" cy="1434.2" r="5.3"/><circle cx="492.6" cy="1437.2" r="5.3"/><circle cx="495.5" cy="1442.7" r="5.3"/><circle cx="498.5" cy="1448" r="5.3"/><circle cx="501.5" cy="1448.2" r="5.3"/><circle cx="504.5" cy="1448.8" r="5.3"/><circle cx="507.5" cy="1446.6" r="5.3"/><circle cx="510.5" cy="1460" r="5.3"/><circle cx="513.4" cy="1461.4" r="5.3"/><circle cx="516.4" cy="1472.9" r="5.3"/><circle cx="519.4" cy="1477.7" r="5.3"/><circle cx="522.4" cy="1480.5" r="5.3"/><circle cx="525.4" cy="1486.4" r="5.3"/><circle cx="528.4" cy="1494.8" r="5.3"/><circle cx="531.3" cy="1502.7" r="5.3"/><circle cx="534.3" cy="1504.6" r="5.3"/><circle cx="537.3" cy="1509.7" r="5.3"/><circle cx="540.3" cy="1510.1" r="5.3"/><circle cx="543.3" cy="1519" r="5.3"/><circle cx="546.3" cy="1521.4" r="5.3"/><circle cx="549.2" cy="1520.9" r="5.3"/><circle cx="552.2" cy="1529.9" r="5.3"/><circle cx="555.2" cy="1530.3" r="5.3"/><circle cx="558.2" cy="1530.7" r="5.3"/><circle cx="561.2" cy="1534.7" r="5.3"/><circle cx="564.2" cy="1544" r="5.3"/><circle cx="567.1" cy="1549.5" r="5.3"/><circle cx="570.1" cy="1555.6" r="5.3"/><circle cx="573.1" cy="1556" r="5.3"/><circle cx="576.1" cy="1566.5" r="5.3"/><circle cx="579.1" cy="1568.3" r="5.3"/><circle cx="582.1" cy="1572.2" r="5.3"/><circle cx="585" cy="1580.9" r="5.3"/><circle cx="588" cy="1586" r="5.3"/><circle cx="591" cy="1585.8" r="5.3"/><circle cx="594" cy="1592.6" r="5.3"/><circle cx="597" cy="1599.2" r="5.3"/><circle cx="600" cy="1600.1" r="5.3"/><circle cx="602.9" cy="1606.7" r="5.3"/><circle cx="605.9" cy="1610.8" r="5.3"/><circle cx="608.9" cy="1616.7" r="5.3"/><circle cx="611.9" cy="1615.7" r="5.3"/><circle cx="614.9" cy="1619.2" r="5.3"/><circle cx="617.9" cy="1626.3" r="5.3"/><circle cx="620.8" cy="1629.6" r="5.3"/><circle cx="623.8" cy="1641.5" r="5.3"/><circle cx="626.8" cy="1645.2" r="5.3"/><circle cx="629.8" cy="1648.1" r="5.3"/><circle cx="632.8" cy="1648.9" r="5.3"/><circle cx="635.8" cy="1652.8" r="5.3"/><circle cx="638.7" cy="1660.4" r="5.3"/><circle cx="641.7" cy="1664.9" r="5.3"/><circle cx="644.7" cy="1667.2" r="5.3"/><circle cx="647.7" cy="1670.2" r="5.3"/><circle cx="650.7" cy="1670.7" r="5.3"/><circle cx="653.7" cy="1679.5" r="5.3"/><circle cx="656.6" cy="1678.9" r="5.3"/><circle cx="659.6" cy="1683.1" r="5.3"/><circle cx="662.6" cy="1686.2" r="5.3"/><circle cx="665.6" cy="1690.3" r="5.3"/><circle cx="668.6" cy="1695.1" r="5.3"/><circle cx="671.6" cy="1700.6" r="5.3"/><circle cx="674.5" cy="1704.2" r="5.3"/><circle cx="677.5" cy="1707.3" r="5.3"/><circle cx="680.5" cy="1707.8" r="5.3"/><circle cx="683.5" cy="1716" r="5.3"/><circle cx="686.5" cy="1718.4" r="5.3"/><circle cx="689.5" cy="1717.8" r="5.3"/><circle cx="692.4" cy="1724.5" r="5.3"/><circle cx="695.4" cy="1729" r="5.3"/><circle cx="698.4" cy="1732.3" r="5.3"/><circle cx="701.4" cy="1731.9" r="5.3"/><circle cx="704.4" cy="1736.5" r="5.3"/><circle cx="707.4" cy="1735" r="5.3"/><circle cx="710.3" cy="1738.7" r="5.3"/><circle cx="713.3" cy="1741" r="5.3"/><circle cx="716.3" cy="1748.9" r="5.3"/><circle cx="719.3" cy="1753" r="5.3"/><circle cx="722.3" cy="1755.7" r="5.3"/><circle cx="725.3" cy="1755.6" r="5.3"/><circle cx="728.2" cy="1756.9" r="5.3"/><circle cx="731.2" cy="1761.3" r="5.3"/><circle cx="734.2" cy="1765.4" r="5.3"/><circle cx="737.2" cy="1766.7" r="5.3"/><circle cx="740.2" cy="1767.8" r="5.3"/><circle cx="743.2" cy="1769.9" r="5.3"/><circle cx="746.1" cy="1771.8" r="5.3"/><circle cx="749.1" cy="1773.5" r="5.3"/><circle cx="752.1" cy="1777.2" r="5.3"/><circle cx="755.1" cy="1783.2" r="5.3"/><circle cx="758.1" cy="1780.5" r="5.3"/><circle cx="761.1" cy="1786.5" r="5.3"/><circle cx="764.1" cy="1786.8" r="5.3"/><circle cx="767" cy="1790.3" r="5.3"/><circle cx="770" cy="1789.8" r="5.3"/><circle cx="773" cy="1795.6" r="5.3"/><circle cx="776" cy="1797.3" r="5.3"/><circle cx="779" cy="1799.3" r="5.3"/><circle cx="782" cy="1802" r="5.3"/><circle cx="784.9" cy="1799.1" r="5.3"/><circle cx="787.9" cy="1803.3" r="5.3"/><circle cx="790.9" cy="1807.3" r="5.3"/><circle cx="793.9" cy="1809" r="5.3"/><circle cx="796.9" cy="1807.1" r="5.3"/><circle cx="799.9" cy="1812.7" r="5.3"/><circle cx="802.8" cy="1816.8" r="5.3"/><circle cx="805.8" cy="1814.9" r="5.3"/><circle cx="808.8" cy="1818.1" r="5.3"/><circle cx="811.8" cy="1817.9" r="5.3"/><circle cx="814.8" cy="1826.2" r="5.3"/><circle cx="817.8" cy="1825.7" r="5.3"/><circle cx="820.7" cy="1825.4" r="5.3"/><circle cx="823.7" cy="1827.3" r="5.3"/><circle cx="826.7" cy="1828.7" r="5.3"/><circle cx="829.7" cy="1836.6" r="5.3"/><circle cx="832.7" cy="1836.7" r="5.3"/><circle cx="835.7" cy="1839.6" r="5.3"/><circle cx="838.6" cy="1840.8" r="5.3"/><circle cx="841.6" cy="1837.1" r="5.3"/><circle cx="844.6" cy="1841.4" r="5.3"/><circle cx="847.6" cy="1840.7" r="5.3"/><circle cx="850.6" cy="1846.3" r="5.3"/><circle cx="853.6" cy="1844.6" r="5.3"/><circle cx="856.5" cy="1849.3" r="5.3"/><circle cx="859.5" cy="1852.4" r="5.3"/><circle cx="862.5" cy="1850.5" r="5.3"/><circle cx="865.5" cy="1851" r="5.3"/><circle cx="868.5" cy="1858.5" r="5.3"/><circle cx="871.5" cy="1856.5" r="5.3"/><circle cx="874.4" cy="1857.4" r="5.3"/><circle cx="877.4" cy="1860.8" r="5.3"/><circle cx="880.4" cy="1860.4" r="5.3"/><circle cx="883.4" cy="1863.1" r="5.3"/><circle cx="886.4" cy="1864.4" r="5.3"/><circle cx="889.4" cy="1872.3" r="5.3"/><circle cx="892.3" cy="1866.1" r="5.3"/><circle cx="895.3" cy="1865.8" r="5.3"/><circle cx="898.3" cy="1869.4" r="5.3"/><circle cx="901.3" cy="1872.1" r="5.3"/><circle cx="904.3" cy="1872.6" r="5.3"/>
</g>
<clipPath id="clipB"><rect x="125.6" y="1080.4" width="780.8" height="922.4"/></clipPath>
<polyline points="125.6,1957.8 130,1956.9 134.3,1954.5 138.7,1947.4 143,1934.6 147.4,1915.4 151.8,1890.1 156.1,1862.1 160.5,1833.3 164.9,1810.6 169.2,1787.7 173.6,1764.1 177.9,1740.9 182.3,1719.9 186.7,1700.1 191,1681.3 195.4,1663.1 199.8,1645.7 204.1,1629.1 208.5,1613.4 212.8,1598.5 217.2,1584.1 221.6,1570 225.9,1556.3 230.3,1543.9 234.7,1532.9 239,1522.9 243.4,1513.5 247.7,1504.7 252.1,1496.5 256.5,1488.7 260.8,1481.2 265.2,1473.6 269.5,1466 273.9,1458.1 278.3,1450.3 282.6,1442.8 287,1435.8 291.4,1429.6 295.7,1423.9 300.1,1418.5 304.4,1413.5 308.8,1408.8 313.2,1404.3 317.5,1400 321.9,1395.9 326.3,1392.1 330.6,1388.6 335,1385.5 339.3,1382.5 343.7,1379.8 348.1,1377.4 352.4,1375.7 356.8,1374.4 361.1,1373.2 365.5,1372.4 369.9,1372.1 374.2,1372.6 378.6,1373.6 383,1375 387.3,1376.7 391.7,1379.6 396,1383 400.4,1386.4 404.8,1389.5 409.1,1392.7 413.5,1395.8 417.9,1399 422.2,1402.2 426.6,1405.3 430.9,1408.3 435.3,1411.3 439.7,1414.3 444,1417.5 448.4,1420.9 452.8,1424.4 457.1,1428.1 461.5,1431.9 465.8,1436 470.2,1440.5 474.6,1445.4 478.9,1450.9 483.3,1456.5 487.6,1462.2 492,1467.7 496.4,1473 500.7,1478.3 505.1,1483.6 509.5,1489.1 513.8,1494.7 518.2,1500.6 522.5,1506.8 526.9,1513 531.3,1519.4 535.6,1525.7 540,1532 544.4,1538.4 548.7,1544.8 553.1,1551.3 557.4,1557.7 561.8,1564.2 566.2,1570.7 570.5,1577.2 574.9,1583.8 579.2,1590.3 583.6,1596.9 588,1603.4 592.3,1610 596.7,1616.5 601.1,1623 605.4,1629.3 609.8,1635.5 614.1,1641.7 618.5,1647.9 622.9,1654.3 627.2,1660.9 631.6,1666.9 636,1672.4 640.3,1677.7 644.7,1682.8 649,1687.7 653.4,1692.5 657.8,1697.1 662.1,1701.7 666.5,1706.2 670.9,1710.7 675.2,1715.1 679.6,1719.6 683.9,1723.9 688.3,1728.2 692.7,1732.4 697,1736.6 701.4,1740.6 705.7,1744.7 710.1,1748.7 714.5,1752.6 718.8,1756.5 723.2,1760.4 727.6,1764.2 731.9,1768 736.3,1771.8 740.6,1775.5 745,1779.1 749.4,1782.7 753.7,1786.2 758.1,1789.7 762.5,1793.1 766.8,1796.4 771.2,1799.6 775.5,1802.8 779.9,1806 784.3,1809.1 788.6,1812.1 793,1815.2 797.3,1818.2 801.7,1821.2 806.1,1824.2 810.4,1827.1 814.8,1830.1 819.2,1833 823.5,1835.9 827.9,1838.7 832.2,1841.6 836.6,1844.4 841,1847.3 845.3,1850.1 849.7,1853 854.1,1855.8 858.4,1858.7 862.8,1861.6 867.1,1864.5 871.5,1867.4 875.9,1870.1 880.2,1872.9 884.6,1875.5 889,1878 893.3,1880.5 897.7,1883 902,1885.4 906.4,1887.7" fill="none" stroke="#F77F73" stroke-width="10" stroke-linejoin="round" stroke-linecap="round" clip-path="url(#clipB)"/>
<polyline points="125.6,1957.8 130,1957.8 134.3,1957.6 138.7,1957.3 143,1956.5 147.4,1954.1 151.8,1951 156.1,1946.8 160.5,1941.1 164.9,1934.4 169.2,1926.6 173.6,1916.9 177.9,1907.6 182.3,1900.1 186.7,1893.4 191,1887.2 195.4,1881.1 199.8,1875.2 204.1,1869.5 208.5,1864.1 212.8,1859 217.2,1854.4 221.6,1850.1 225.9,1846.1 230.3,1842.3 234.7,1838.7 239,1835.4 243.4,1832.3 247.7,1829.3 252.1,1826.4 256.5,1823.8 260.8,1821.2 265.2,1819 269.5,1816.9 273.9,1815.1 278.3,1813.5 282.6,1812 287,1810.5 291.4,1809.1 295.7,1807.7 300.1,1806.2 304.4,1804.7 308.8,1803.3 313.2,1801.9 317.5,1800.7 321.9,1799.6 326.3,1798.6 330.6,1797.7 335,1796.9 339.3,1796.3 343.7,1795.8 348.1,1795.5 352.4,1795.7 356.8,1796.7 361.1,1798.2 365.5,1800.7 369.9,1803.6 374.2,1807.1 378.6,1811 383,1814.7 387.3,1818.6 391.7,1822.6 396,1826.5 400.4,1830.3 404.8,1833.8 409.1,1837.3 413.5,1840.8 417.9,1844.3 422.2,1847.8 426.6,1851.3 430.9,1854.7 435.3,1858 439.7,1861.1 444,1864.2 448.4,1867.1 452.8,1869.8 457.1,1872.5 461.5,1875 465.8,1877.4 470.2,1879.8 474.6,1882.1 478.9,1884.4 483.3,1886.6 487.6,1888.8 492,1890.9 496.4,1892.9 500.7,1894.8 505.1,1896.7 509.5,1898.5 513.8,1900.2 518.2,1901.9 522.5,1903.6 526.9,1905.2 531.3,1906.9 535.6,1908.5 540,1910.1 544.4,1911.7 548.7,1913.3 553.1,1914.8 557.4,1916.3 561.8,1917.7 566.2,1918.9 570.5,1920.2 574.9,1921.3 579.2,1922.4 583.6,1923.5 588,1924.5 592.3,1925.5 596.7,1926.6 601.1,1927.6 605.4,1928.7 609.8,1929.8 614.1,1930.8 618.5,1931.9 622.9,1932.8 627.2,1933.7 631.6,1934.5 636,1935.3 640.3,1936 644.7,1936.6 649,1937.3 653.4,1937.9 657.8,1938.5 662.1,1939.1 666.5,1939.7 670.9,1940.4 675.2,1941 679.6,1941.6 683.9,1942.2 688.3,1942.8 692.7,1943.4 697,1943.9 701.4,1944.4 705.7,1944.9 710.1,1945.4 714.5,1945.9 718.8,1946.3 723.2,1946.8 727.6,1947.1 731.9,1947.4 736.3,1947.7 740.6,1948 745,1948.2 749.4,1948.5 753.7,1948.7 758.1,1948.9 762.5,1949.2 766.8,1949.4 771.2,1949.6 775.5,1949.9 779.9,1950.1 784.3,1950.3 788.6,1950.5 793,1950.7 797.3,1951 801.7,1951.2 806.1,1951.4 810.4,1951.7 814.8,1951.9 819.2,1952.1 823.5,1952.3 827.9,1952.5 832.2,1952.7 836.6,1952.8 841,1952.9 845.3,1953.1 849.7,1953.2 854.1,1953.3 858.4,1953.4 862.8,1953.5 867.1,1953.6 871.5,1953.7 875.9,1953.8 880.2,1953.9 884.6,1954 889,1954.1 893.3,1954.2 897.7,1954.2 902,1954.3 906.4,1954.4" fill="none" stroke="#1B7FD1" stroke-width="4.7" stroke-linejoin="round" stroke-linecap="round" clip-path="url(#clipB)"/>
<rect x="125.6" y="1080.4" width="780.8" height="922.4" fill="none" stroke="#1a1a1a" stroke-width="2"/>
<path d="M125.6 2002.8h-12.6M125.6 1887.5h-8.5M125.6 1772.2h-12.6M125.6 1656.9h-8.5M125.6 1541.6h-12.6M125.6 1426.3h-8.5M125.6 1311h-12.6M125.6 1195.7h-8.5M125.6 1080.4h-12.6M125.6 2002.8v12.6M196.6 2002.8v8.5M267.6 2002.8v12.6M338.5 2002.8v8.5M409.5 2002.8v12.6M480.5 2002.8v8.5M551.5 2002.8v12.6M622.5 2002.8v8.5M693.5 2002.8v12.6M764.4 2002.8v8.5M835.4 2002.8v12.6M906.4 2002.8v8.5" stroke="#1a1a1a" stroke-width="2" fill="none"/>
<text x="102.4" y="2015.7" font-size="36" text-anchor="end" fill="#000">0</text>
<text x="102.4" y="1785.1" font-size="36" text-anchor="end" fill="#000">20</text>
<text x="102.4" y="1554.5" font-size="36" text-anchor="end" fill="#000">40</text>
<text x="102.4" y="1323.9" font-size="36" text-anchor="end" fill="#000">60</text>
<text x="102.4" y="1093.3" font-size="36" text-anchor="end" fill="#000">80</text>
<text x="125.6" y="2052.6" font-size="36" text-anchor="middle" fill="#000">0</text>
<text x="267.6" y="2052.6" font-size="36" text-anchor="middle" fill="#000">4</text>
<text x="409.5" y="2052.6" font-size="36" text-anchor="middle" fill="#000">8</text>
<text x="551.5" y="2052.6" font-size="36" text-anchor="middle" fill="#000">12</text>
<text x="693.5" y="2052.6" font-size="36" text-anchor="middle" fill="#000">16</text>
<text x="835.4" y="2052.6" font-size="36" text-anchor="middle" fill="#000">20</text>
<text x="515.3" y="2105.5" font-size="45.5" text-anchor="middle" fill="#000">Time [h]</text>
<text transform="translate(39.3 1538.3) rotate(-90)" font-size="46" text-anchor="middle">Intensity [a.u.]</text>
<path d="M125.6 1058.7H338.5" stroke="#187C69" stroke-width="8"/>
<path d="M126.1 1049.7v18M338 1049.7v18" stroke="#187C69" stroke-width="2"/>
<text x="232" y="1042.6" font-size="31.5" text-anchor="middle" fill="#000" font-style="italic">signal-on</text>
<path d="M530.4 1110.8H589.6" stroke="#F77F73" stroke-width="10"/>
<path d="M530.4 1147.2H589.6" stroke="#1B7FD1" stroke-width="4.6"/>
<text x="600.8" y="1117.2" font-size="32" text-anchor="start" fill="#000">1 &#181;M 3O-C12-HSL</text>
<text x="600.8" y="1156.3" font-size="32" text-anchor="start" fill="#000">10 nM 3O-C12-HSL</text>
</g>
<g id="panel-c">
<text x="962.8" y="1017.6" font-size="55" text-anchor="start" fill="#000" font-weight="bold">c</text>
<path d="M1095.4 1058.7H1308.1" stroke="#187C69" stroke-width="8"/>
<path d="M1095.9 1049.4v18.6M1307.6 1049.4v18.6" stroke="#187C69" stroke-width="2"/>
<text x="1201.2" y="1042.4" font-size="31.5" text-anchor="middle" fill="#000" font-style="italic">signal-on</text>
<clipPath id="clipC1"><rect x="1095.4" y="1079" width="779.8" height="432.3"/></clipPath>
<g clip-path="url(#clipC1)">
<polyline points="1095.4,1509.8 1097.7,1479.6 1100,1473.4 1102.3,1469.6 1104.6,1466.6 1106.9,1465.3 1109.2,1464.5 1111.5,1464 1113.8,1463.7 1116.1,1463.5 1118.4,1463.3 1120.7,1463.1 1123,1463 1125.3,1462.9 1127.6,1462.9 1129.9,1462.8 1132.2,1462.8 1134.5,1462.8 1136.8,1462.8 1139.1,1462.8 1141.4,1462.8 1143.7,1462.8 1146,1462.8 1148.3,1462.8 1150.6,1462.8 1152.9,1462.8 1155.2,1462.8 1157.5,1462.8 1159.8,1462.8 1162.1,1462.8 1164.4,1462.8 1166.7,1462.8 1169,1462.8 1171.3,1462.8 1173.6,1462.8 1175.9,1462.9 1178.2,1462.9 1180.5,1462.9 1182.8,1462.9 1185.1,1462.9 1187.4,1463 1189.7,1463 1192,1463.1 1194.3,1463.1 1196.6,1463.2 1198.9,1463.3 1201.2,1463.3 1203.5,1463.4 1205.8,1463.5 1208.1,1463.6 1210.4,1463.7 1212.7,1463.7 1215,1463.8 1217.3,1463.9 1219.6,1464 1221.9,1464.1 1224.2,1464.2 1226.5,1464.4 1228.8,1464.5 1231.1,1464.7 1233.4,1464.8 1235.7,1465 1238,1465.2 1240.3,1465.4 1242.6,1465.6 1244.9,1465.8 1247.2,1466 1249.5,1466.2 1251.8,1466.3 1254.1,1466.5 1256.4,1466.7 1258.7,1466.9 1261,1467.1 1263.3,1467.2 1265.6,1467.4 1267.9,1467.6 1270.2,1467.8 1272.5,1468 1274.8,1468.2 1277.1,1468.4 1279.4,1468.6 1281.7,1468.8 1284,1469 1286.3,1469.2 1288.6,1469.4 1290.9,1469.5 1293.2,1469.7 1295.5,1469.8 1297.8,1469.9 1300.1,1470 1302.4,1470.1 1304.7,1470.1 1307,1470.1 1309.3,1467.6 1311.6,1465.9 1313.9,1468.3 1316.2,1469.3 1318.5,1469.7 1320.8,1469.9 1323.1,1470.1 1325.4,1470.3 1327.7,1470.5 1330,1470.8 1332.3,1471 1334.6,1471.2 1336.9,1471.5 1339.2,1471.7 1341.5,1472 1343.8,1472.2 1346.1,1472.4 1348.4,1472.7 1350.7,1472.9 1353,1473.1 1355.3,1473.4 1357.6,1473.6 1359.9,1473.8 1362.2,1474 1364.5,1474.2 1366.8,1474.4 1369.1,1474.6 1371.4,1474.8 1373.7,1474.9 1376,1475.1 1378.3,1475.3 1380.6,1475.5 1382.9,1475.7 1385.2,1475.8 1387.5,1476 1389.8,1476.2 1392.1,1476.4 1394.4,1476.5 1396.7,1476.7 1399,1476.8 1401.3,1477 1403.6,1477.1 1405.9,1477.2 1408.2,1477.3 1410.5,1477.4 1412.8,1477.5 1415.1,1477.6 1417.4,1477.7 1419.7,1477.7 1422,1477.7 1424.3,1477.7 1426.6,1477.8 1428.9,1477.8 1431.2,1477.9 1433.5,1478.4 1435.8,1479.1 1438.1,1480 1440.4,1480.8 1442.7,1481.4 1445,1481.7 1447.3,1481.8 1449.6,1482 1451.9,1482.1 1454.2,1482.2 1456.5,1482.3 1458.8,1482.4 1461.1,1482.6 1463.4,1482.9 1465.7,1483.3 1468,1483.6 1470.3,1483.7 1472.6,1483.8 1474.9,1483.9 1477.2,1484 1479.5,1484.1 1481.8,1484.1 1484.1,1484.2 1486.5,1484.3 1488.8,1484.3 1491.1,1484.4 1493.4,1484.4 1495.7,1484.4 1498,1484.5 1500.3,1484.5 1502.6,1484.5 1504.9,1484.6 1507.2,1484.6 1509.5,1484.6 1511.8,1484.6 1514.1,1484.6 1516.4,1484.6 1518.7,1484.6 1521,1484.6 1523.3,1484.6 1525.6,1484.5 1527.9,1484.5 1530.2,1484.5 1532.5,1484.4 1534.8,1484.4 1537.1,1484.4 1539.4,1484.3 1541.7,1484.3 1544,1484.3 1546.3,1484.2 1548.6,1484.2 1550.9,1484.2 1553.2,1484.2 1555.5,1484.2 1557.8,1484.2 1560.1,1484.2 1562.4,1484.2 1564.7,1484.3 1567,1484.4 1569.3,1484.5 1571.6,1484.6 1573.9,1484.7 1576.2,1484.8 1578.5,1484.8 1580.8,1484.8 1583.1,1484.8 1585.4,1484.7 1587.7,1484.5 1590,1484.3 1592.3,1484.1 1594.6,1483.9 1596.9,1483.7 1599.2,1483.6 1601.5,1483.5 1603.8,1483.5 1606.1,1483.5 1608.4,1483.6 1610.7,1483.7 1613,1483.9 1615.3,1484 1617.6,1484.2 1619.9,1484.5 1622.2,1484.9 1624.5,1485.3 1626.8,1485.7 1629.1,1485.9 1631.4,1486 1633.7,1486.1 1636,1486.2 1638.3,1486.2 1640.6,1486.3 1642.9,1486.3 1645.2,1486.4 1647.5,1486.4 1649.8,1486.5 1652.1,1486.5 1654.4,1486.5 1656.7,1486.6 1659,1486.6 1661.3,1486.6 1663.6,1486.7 1665.9,1486.7 1668.2,1486.8 1670.5,1486.9 1672.8,1487 1675.1,1487.1 1677.4,1487.3 1679.7,1487.4 1682,1487.6 1684.3,1487.7 1686.6,1487.9 1688.9,1488 1691.2,1488.2 1693.5,1488.3 1695.8,1488.4 1698.1,1488.5 1700.4,1488.6 1702.7,1488.8 1705,1488.9 1707.3,1488.9 1709.6,1489 1711.9,1489 1714.2,1489 1716.5,1488.9 1718.8,1488.8 1721.1,1488.7 1723.4,1488.6 1725.7,1488.5 1728,1488.4 1730.3,1488.3 1732.6,1488.2 1734.9,1488.1 1737.2,1488.1 1739.5,1488.2 1741.8,1488.2 1744.1,1488.2 1746.4,1488.3 1748.7,1488.3 1751,1488.4 1753.3,1488.4 1755.6,1488.5 1757.9,1488.5 1760.2,1488.5 1762.5,1488.6 1764.8,1488.6 1767.1,1488.5 1769.4,1487.8 1771.7,1487.1 1774,1487.1 1776.3,1487.2 1778.6,1487.4 1780.9,1487.6 1783.2,1487.8 1785.5,1488 1787.8,1488.1 1790.1,1488.1 1792.4,1488.1 1794.7,1488 1797,1487.9 1799.3,1487.7 1801.6,1487.5 1803.9,1487.4 1806.2,1487.2 1808.5,1487.1 1810.8,1487.1 1813.1,1487.1 1815.4,1487.3 1817.7,1487.7 1820,1488 1822.3,1488.4 1824.6,1488.6 1826.9,1488.8 1829.2,1489.1 1831.5,1489.3 1833.8,1489.5 1836.1,1489.8 1838.4,1490 1840.7,1490.1 1843,1490.3 1845.3,1490.4 1847.6,1490.4 1849.9,1490.5 1852.2,1490.5 1854.5,1490.6 1856.8,1490.6 1859.1,1490.7 1861.4,1490.7 1863.7,1490.7 1866,1490.8 1868.3,1490.8 1870.6,1490.8 1872.9,1490.8 1875.2,1490.8" fill="none" stroke="#C8355B" stroke-width="4.2" stroke-linejoin="round" stroke-linecap="round"/>
<polyline points="1095.4,1509.8 1102.5,1508.9 1308.1,1508.9 1310.9,1507 1379,1507.7 1449.9,1508.3 1520.7,1508.9 1627.1,1509.4 1875.2,1509.8" fill="none" stroke="#EBA273" stroke-width="4.2" stroke-linejoin="round" stroke-linecap="round"/>
<polyline points="1095.4,1509.8 1106,1509.4 1201.7,1509.2 1308.1,1509.2 1309.8,1509.8 1875.2,1509.8" fill="none" stroke="#93DADF" stroke-width="4.2" stroke-linejoin="round" stroke-linecap="round"/>
<polyline points="1095.4,1509.8 1098.9,1508.1 1107.8,1506.2 1166.3,1505.9 1237.2,1506.4 1308.1,1506.8 1309.5,1506.8 1310.9,1509.8 1875.2,1509.8" fill="none" stroke="#4C7EC2" stroke-width="4.2" stroke-linejoin="round" stroke-linecap="round"/>
<polyline points="1095.4,1509.8 1098.4,1509.8 1101.4,1509.2 1104.4,1503.7 1107.4,1495 1110.5,1487.1 1113.5,1478.9 1116.5,1471.1 1119.5,1463.9 1122.5,1457.2 1125.5,1450.8 1128.5,1444.7 1131.5,1438.8 1134.5,1433 1137.6,1427.6 1140.6,1422.7 1143.6,1418.4 1146.6,1414.4 1149.6,1410.7 1152.6,1407.2 1155.6,1403.9 1158.6,1400.9 1161.6,1398.1 1164.6,1395.6 1167.7,1393.3 1170.7,1391.3 1173.7,1389.6 1176.7,1388.2 1179.7,1387 1182.7,1385.9 1185.7,1384.9 1188.7,1384 1191.7,1383.1 1194.8,1382.3 1197.8,1381.7 1200.8,1381.3 1203.8,1381 1206.8,1380.8 1209.8,1380.6 1212.8,1380.4 1215.8,1380.3 1218.8,1380.3 1221.9,1380.4 1224.9,1380.5 1227.9,1380.7 1230.9,1380.9 1233.9,1381.2 1236.9,1381.6 1239.9,1382.6 1242.9,1383.8 1245.9,1384.6 1249,1385.2 1252,1385.7 1255,1386.3 1258,1386.8 1261,1387.4 1264,1388 1267,1388.8 1270,1389.6 1273,1390.4 1276,1391.2 1279.1,1392 1282.1,1392.7 1285.1,1393.3 1288.1,1393.8 1291.1,1394.2 1294.1,1394.6 1297.1,1395 1300.1,1395.5 1303.1,1396.1 1306.2,1397 1309.2,1399 1312.2,1402.6 1315.2,1408 1318.2,1413.3 1321.2,1418.4 1324.2,1423.4 1327.2,1428.1 1330.2,1432.4 1333.3,1436.6 1336.3,1440.5 1339.3,1444 1342.3,1447.2 1345.3,1450.1 1348.3,1452.9 1351.3,1455.5 1354.3,1458 1357.3,1460.5 1360.4,1462.8 1363.4,1465.1 1366.4,1467.3 1369.4,1469.4 1372.4,1471.5 1375.4,1473.5 1378.4,1475.5 1381.4,1477.5 1384.4,1479.4 1387.4,1481.2 1390.5,1482.8 1393.5,1484.4 1396.5,1485.8 1399.5,1487.2 1402.5,1488.5 1405.5,1489.7 1408.5,1490.9 1411.5,1492 1414.5,1493 1417.6,1493.9 1420.6,1494.8 1423.6,1495.7 1426.6,1496.5 1429.6,1497.3 1432.6,1498 1435.6,1498.6 1438.6,1499.2 1441.6,1499.7 1444.7,1500.2 1447.7,1500.6 1450.7,1501 1453.7,1501.3 1456.7,1501.7 1459.7,1502 1462.7,1502.3 1465.7,1502.6 1468.7,1502.9 1471.8,1503.2 1474.8,1503.5 1477.8,1503.8 1480.8,1504.1 1483.8,1504.4 1486.8,1504.6 1489.8,1504.8 1492.8,1505.1 1495.8,1505.3 1498.8,1505.5 1501.9,1505.7 1504.9,1505.8 1507.9,1506 1510.9,1506.1 1513.9,1506.2 1516.9,1506.4 1519.9,1506.6 1522.9,1506.7 1525.9,1506.9 1529,1507.1 1532,1507.3 1535,1507.5 1538,1507.6 1541,1507.8 1544,1508 1547,1508.1 1550,1508.2 1553,1508.3 1556.1,1508.4 1559.1,1508.5 1562.1,1508.6 1565.1,1508.7 1568.1,1508.7 1571.1,1508.8 1574.1,1508.8 1577.1,1508.9 1580.1,1508.9 1583.2,1509 1586.2,1509 1589.2,1509 1592.2,1509.1 1595.2,1509.1 1598.2,1509.1 1601.2,1509.1 1604.2,1509.2 1607.2,1509.2 1610.2,1509.2 1613.3,1509.2 1616.3,1509.3 1619.3,1509.3 1622.3,1509.3 1625.3,1509.3 1628.3,1509.3 1631.3,1509.3 1634.3,1509.4 1637.3,1509.4 1640.4,1509.4 1643.4,1509.4 1646.4,1509.4 1649.4,1509.4 1652.4,1509.4 1655.4,1509.5 1658.4,1509.5 1661.4,1509.5 1664.4,1509.5 1667.5,1509.5 1670.5,1509.5 1673.5,1509.5 1676.5,1509.5 1679.5,1509.5 1682.5,1509.5 1685.5,1509.6 1688.5,1509.6 1691.5,1509.6 1694.6,1509.6 1697.6,1509.6 1700.6,1509.6 1703.6,1509.6 1706.6,1509.6 1709.6,1509.6 1712.6,1509.6 1715.6,1509.6 1718.6,1509.6 1721.6,1509.6 1724.7,1509.6 1727.7,1509.6 1730.7,1509.6 1733.7,1509.7 1736.7,1509.7 1739.7,1509.7 1742.7,1509.7 1745.7,1509.7 1748.7,1509.7 1751.8,1509.7 1754.8,1509.7 1757.8,1509.7 1760.8,1509.7 1763.8,1509.7 1766.8,1509.7 1769.8,1509.7 1772.8,1509.7 1775.8,1509.7 1778.9,1509.7 1781.9,1509.7 1784.9,1509.7 1787.9,1509.7 1790.9,1509.7 1793.9,1509.7 1796.9,1509.8 1799.9,1509.8 1802.9,1509.8 1806,1509.8 1809,1509.8 1812,1509.8 1815,1509.8 1818,1509.8 1821,1509.8 1824,1509.8 1827,1509.8 1830,1509.8 1833,1509.8 1836.1,1509.8 1839.1,1509.8 1842.1,1509.8 1845.1,1509.8 1848.1,1509.8 1851.1,1509.8 1854.1,1509.8 1857.1,1509.8 1860.1,1509.8 1863.2,1509.8 1866.2,1509.8 1869.2,1509.8 1872.2,1509.8 1875.2,1509.8" fill="none" stroke="#A0509F" stroke-width="4.2" stroke-linejoin="round" stroke-linecap="round"/>
<polyline points="1095.4,1509.8 1098.4,1509.3 1101.4,1504.7 1104.4,1496.2 1107.4,1488.5 1110.5,1482.1 1113.5,1475.9 1116.5,1470.1 1119.5,1464.7 1122.5,1459.7 1125.5,1455.1 1128.5,1450.6 1131.5,1446.3 1134.5,1442.2 1137.6,1438.3 1140.6,1434.8 1143.6,1431.8 1146.6,1429 1149.6,1426.5 1152.6,1424.3 1155.6,1422.3 1158.6,1420.5 1161.6,1418.8 1164.6,1417.4 1167.7,1416 1170.7,1414.8 1173.7,1413.9 1176.7,1413.1 1179.7,1412.4 1182.7,1411.8 1185.7,1411.2 1188.7,1410.7 1191.7,1410.2 1194.8,1409.8 1197.8,1409.4 1200.8,1409 1203.8,1408.6 1206.8,1408.3 1209.8,1408 1212.8,1407.7 1215.8,1407.4 1218.8,1407.2 1221.9,1407 1224.9,1406.8 1227.9,1406.7 1230.9,1406.5 1233.9,1406.4 1236.9,1406.3 1239.9,1406.2 1242.9,1406.2 1245.9,1406.2 1249,1406.2 1252,1406.2 1255,1406.2 1258,1406.2 1261,1406.2 1264,1406.3 1267,1406.3 1270,1406.4 1273,1406.5 1276,1406.6 1279.1,1406.7 1282.1,1406.8 1285.1,1406.9 1288.1,1407 1291.1,1407.1 1294.1,1407.2 1297.1,1407.3 1300.1,1407.4 1303.1,1407.7 1306.2,1407.9 1309.2,1408.8 1312.2,1413.8 1315.2,1419 1318.2,1424.6 1321.2,1429.4 1324.2,1433.4 1327.2,1437.1 1330.2,1440.8 1333.3,1444.2 1336.3,1447.6 1339.3,1450.6 1342.3,1453.5 1345.3,1456.2 1348.3,1458.7 1351.3,1461 1354.3,1463.1 1357.3,1465.1 1360.4,1467 1363.4,1468.7 1366.4,1470.4 1369.4,1472.1 1372.4,1473.7 1375.4,1475.2 1378.4,1476.8 1381.4,1478.2 1384.4,1479.7 1387.4,1481 1390.5,1482.3 1393.5,1483.5 1396.5,1484.5 1399.5,1485.6 1402.5,1486.5 1405.5,1487.5 1408.5,1488.3 1411.5,1489.2 1414.5,1489.9 1417.6,1490.7 1420.6,1491.4 1423.6,1492 1426.6,1492.7 1429.6,1493.3 1432.6,1493.8 1435.6,1494.3 1438.6,1494.7 1441.6,1495.1 1444.7,1495.4 1447.7,1495.6 1450.7,1495.9 1453.7,1496.1 1456.7,1496.3 1459.7,1496.6 1462.7,1496.8 1465.7,1497 1468.7,1497.3 1471.8,1497.6 1474.8,1497.9 1477.8,1498.3 1480.8,1498.7 1483.8,1499.1 1486.8,1499.5 1489.8,1499.9 1492.8,1500.4 1495.8,1500.8 1498.8,1501.2 1501.9,1501.6 1504.9,1502 1507.9,1502.3 1510.9,1502.6 1513.9,1502.9 1516.9,1503.2 1519.9,1503.4 1522.9,1503.7 1525.9,1503.9 1529,1504.1 1532,1504.3 1535,1504.5 1538,1504.7 1541,1504.9 1544,1505.1 1547,1505.2 1550,1505.4 1553,1505.6 1556.1,1505.7 1559.1,1505.9 1562.1,1506 1565.1,1506.1 1568.1,1506.3 1571.1,1506.4 1574.1,1506.5 1577.1,1506.6 1580.1,1506.7 1583.2,1506.8 1586.2,1506.9 1589.2,1507 1592.2,1507.1 1595.2,1507.2 1598.2,1507.3 1601.2,1507.4 1604.2,1507.5 1607.2,1507.6 1610.2,1507.7 1613.3,1507.8 1616.3,1507.8 1619.3,1507.9 1622.3,1508 1625.3,1508.1 1628.3,1508.2 1631.3,1508.2 1634.3,1508.3 1637.3,1508.4 1640.4,1508.4 1643.4,1508.5 1646.4,1508.5 1649.4,1508.5 1652.4,1508.6 1655.4,1508.6 1658.4,1508.6 1661.4,1508.7 1664.4,1508.7 1667.5,1508.7 1670.5,1508.8 1673.5,1508.8 1676.5,1508.8 1679.5,1508.8 1682.5,1508.9 1685.5,1508.9 1688.5,1508.9 1691.5,1508.9 1694.6,1508.9 1697.6,1509 1700.6,1509 1703.6,1509 1706.6,1509 1709.6,1509 1712.6,1509.1 1715.6,1509.1 1718.6,1509.1 1721.6,1509.1 1724.7,1509.1 1727.7,1509.1 1730.7,1509.1 1733.7,1509.2 1736.7,1509.2 1739.7,1509.2 1742.7,1509.2 1745.7,1509.2 1748.7,1509.2 1751.8,1509.2 1754.8,1509.3 1757.8,1509.3 1760.8,1509.3 1763.8,1509.3 1766.8,1509.3 1769.8,1509.3 1772.8,1509.3 1775.8,1509.3 1778.9,1509.4 1781.9,1509.4 1784.9,1509.4 1787.9,1509.4 1790.9,1509.4 1793.9,1509.4 1796.9,1509.4 1799.9,1509.4 1802.9,1509.4 1806,1509.5 1809,1509.5 1812,1509.5 1815,1509.5 1818,1509.5 1821,1509.5 1824,1509.5 1827,1509.5 1830,1509.5 1833,1509.5 1836.1,1509.5 1839.1,1509.5 1842.1,1509.5 1845.1,1509.6 1848.1,1509.6 1851.1,1509.6 1854.1,1509.6 1857.1,1509.6 1860.1,1509.6 1863.2,1509.6 1866.2,1509.6 1869.2,1509.6 1872.2,1509.6 1875.2,1509.6" fill="none" stroke="#198379" stroke-width="4.6" stroke-linejoin="round" stroke-linecap="butt" stroke-dasharray="18.6 5.8"/>
</g>
<rect x="1095.4" y="1081" width="779.8" height="428.8" fill="none" stroke="#1a1a1a" stroke-width="2"/>
<path d="M1095.4 1509.8h-12.6M1095.4 1456.2h-8.5M1095.4 1402.6h-12.6M1095.4 1349h-8.5M1095.4 1295.4h-12.6M1095.4 1241.8h-8.5M1095.4 1188.2h-12.6M1095.4 1134.6h-8.5M1095.4 1081h-12.6M1875.2 1509.8h13M1875.2 1402.6h13M1875.2 1295.4h13M1875.2 1188.2h13M1875.2 1081h13M1095.4 1509.8v12.6M1166.3 1509.8v8.5M1237.2 1509.8v12.6M1308.1 1509.8v8.5M1379 1509.8v12.6M1449.9 1509.8v8.5M1520.7 1509.8v12.6M1591.6 1509.8v8.5M1662.5 1509.8v12.6M1733.4 1509.8v8.5M1804.3 1509.8v12.6M1875.2 1509.8v8.5" stroke="#1a1a1a" stroke-width="2" fill="none"/>
<text x="1072" y="1522.9" font-size="36" text-anchor="end" fill="#000">0.0</text>
<text x="1897" y="1522.9" font-size="36" text-anchor="start" fill="#000">0.0</text>
<text x="1072" y="1415.7" font-size="36" text-anchor="end" fill="#000">0.5</text>
<text x="1897" y="1415.7" font-size="36" text-anchor="start" fill="#000">2.5</text>
<text x="1072" y="1308.5" font-size="36" text-anchor="end" fill="#000">1.0</text>
<text x="1897" y="1308.5" font-size="36" text-anchor="start" fill="#000">5.0</text>
<text x="1072" y="1201.3" font-size="36" text-anchor="end" fill="#000">1.5</text>
<text x="1897" y="1201.3" font-size="36" text-anchor="start" fill="#000">7.5</text>
<text x="1072" y="1094.1" font-size="36" text-anchor="end" fill="#000">2.0</text>
<text x="1897" y="1094.1" font-size="36" text-anchor="start" fill="#000">10.0</text>
<text transform="translate(998.6 1296.4) rotate(-90)" font-size="46" text-anchor="middle">Concentration [nM]</text>
<text transform="translate(1969.6 1295.9) rotate(90)" font-size="43.5" text-anchor="middle"><tspan font-style="italic" font-size="45">s</tspan><tspan font-size="28.5" dy="9" font-style="italic">a</tspan><tspan dy="-9"> [nM]</tspan></text>
<text x="1015" y="1061.6" font-size="28">x10<tspan font-size="19" dy="-10.9" dx="0.5">3</tspan></text>
<text x="1485.8" y="1118.9" font-size="32" text-anchor="start" fill="#000">10 nM 3O-C12-HSL</text>
<path d="M1789 1105.8H1824.5" stroke="#C8355B" stroke-width="4.2"/>
<text x="1836.5" y="1110.8" font-size="28.7" text-anchor="start" fill="#000" font-style="italic">r<tspan font-size="20.5" dy="6">1</tspan></text>
<path d="M1789 1134H1824.5" stroke="#EBA273" stroke-width="4.2"/>
<text x="1836.5" y="1139" font-size="28.7" text-anchor="start" fill="#000" font-style="italic">r<tspan font-size="20.5" dy="6">2</tspan></text>
<path d="M1789 1162.2H1824.5" stroke="#4C7EC2" stroke-width="4.2"/>
<text x="1836.5" y="1167.2" font-size="28.7" text-anchor="start" fill="#000" font-style="italic">r<tspan font-size="20.5" dy="6">3</tspan></text>
<path d="M1789 1190.4H1824.5" stroke="#93DADF" stroke-width="4.2"/>
<text x="1836.5" y="1195.4" font-size="28.7" text-anchor="start" fill="#000" font-style="italic">r<tspan font-size="20.5" dy="6">4</tspan></text>
<path d="M1789 1218.6H1824.5" stroke="#198379" stroke-width="4.2" stroke-dasharray="15.3 4.9"/>
<text x="1836.5" y="1223.6" font-size="28.7" text-anchor="start" fill="#000" font-style="italic">s<tspan font-size="20.5" dy="6">a</tspan></text>
<path d="M1789 1246.8H1824.5" stroke="#A0509F" stroke-width="4.2"/>
<text x="1836.5" y="1254.5" font-size="28.7" text-anchor="start" fill="#000" font-style="italic">n</text>
<path d="M1095.4 1551.8H1308.1" stroke="#187C69" stroke-width="8"/>
<path d="M1095.9 1542.5v18.6M1307.6 1542.5v18.6" stroke="#187C69" stroke-width="2"/>
<clipPath id="clipC2"><rect x="1095.4" y="1572.4" width="779.8" height="431.7"/></clipPath>
<g clip-path="url(#clipC2)">
<polyline points="1095.4,1998.3 1130.8,1997 1201.7,1996.8 1307.4,1996.6 1308.1,1996.6 1309.1,1831.7 1311.6,1831.7 1314.2,1893.4 1316.8,1923 1319.3,1952.1 1321.9,1967.1 1324.5,1975.3 1327.1,1979.7 1329.6,1982.6 1332.2,1984 1334.8,1985 1337.4,1985.6 1339.9,1985.9 1342.5,1986 1345.1,1986 1347.6,1986.1 1350.2,1986.1 1352.8,1986.2 1355.4,1986.2 1357.9,1986.3 1360.5,1986.3 1363.1,1986.3 1365.7,1986.4 1368.2,1986.4 1370.8,1986.4 1373.4,1986.4 1376,1986.5 1378.5,1986.5 1381.1,1986.5 1383.7,1986.5 1386.2,1986.5 1388.8,1986.5 1391.4,1986.5 1394,1986.5 1396.5,1986.5 1399.1,1986.5 1401.7,1986.5 1404.3,1986.5 1406.8,1986.5 1409.4,1986.5 1412,1986.5 1414.6,1986.5 1417.1,1986.5 1419.7,1986.4 1422.3,1986.4 1424.8,1986.3 1427.4,1986.3 1430,1986.2 1432.6,1986.2 1435.1,1986.1 1437.7,1986.1 1440.3,1986 1442.9,1986 1445.4,1986 1448,1985.9 1450.6,1985.9 1453.2,1985.9 1455.7,1985.8 1458.3,1985.8 1460.9,1985.8 1463.5,1985.7 1466,1985.7 1468.6,1985.7 1471.2,1985.7 1473.7,1985.6 1476.3,1985.6 1478.9,1985.6 1481.5,1985.5 1484,1985.5 1486.6,1985.5 1489.2,1985.5 1491.8,1985.4 1494.3,1985.4 1496.9,1985.4 1499.5,1985.4 1502.1,1985.3 1504.6,1985.3 1507.2,1985.3 1509.8,1985.3 1512.3,1985.2 1514.9,1985.2 1517.5,1985.2 1520.1,1985.2 1522.6,1985.1 1525.2,1985.1 1527.8,1985.1 1530.4,1985.1 1532.9,1985 1535.5,1985 1538.1,1985 1540.7,1984.9 1543.2,1984.9 1545.8,1984.9 1548.4,1984.9 1550.9,1984.8 1553.5,1984.8 1556.1,1984.8 1558.7,1984.7 1561.2,1984.7 1563.8,1984.7 1566.4,1984.6 1569,1984.6 1571.5,1984.6 1574.1,1984.5 1576.7,1984.5 1579.3,1984.5 1581.8,1984.4 1584.4,1984.4 1587,1984.4 1589.5,1984.3 1592.1,1984.3 1594.7,1984.3 1597.3,1984.2 1599.8,1984.2 1602.4,1984.1 1605,1984.1 1607.6,1984.1 1610.1,1984 1612.7,1984 1615.3,1984 1617.9,1983.9 1620.4,1983.9 1623,1983.9 1625.6,1983.8 1628.2,1983.8 1630.7,1983.7 1633.3,1983.7 1635.9,1983.7 1638.4,1983.6 1641,1983.6 1643.6,1983.6 1646.2,1983.5 1648.7,1983.5 1651.3,1983.5 1653.9,1983.4 1656.5,1983.4 1659,1983.3 1661.6,1983.3 1664.2,1983.3 1666.8,1983.2 1669.3,1983.2 1671.9,1983.2 1674.5,1983.1 1677,1983.1 1679.6,1983.1 1682.2,1983 1684.8,1983 1687.3,1982.9 1689.9,1982.9 1692.5,1982.9 1695.1,1982.8 1697.6,1982.8 1700.2,1982.8 1702.8,1982.7 1705.4,1982.7 1707.9,1982.7 1710.5,1982.6 1713.1,1982.6 1715.6,1982.6 1718.2,1982.5 1720.8,1982.5 1723.4,1982.5 1725.9,1982.4 1728.5,1982.4 1731.1,1982.4 1733.7,1982.3 1736.2,1982.3 1738.8,1982.3 1741.4,1982.2 1744,1982.2 1746.5,1982.2 1749.1,1982.1 1751.7,1982.1 1754.2,1982.1 1756.8,1982 1759.4,1982 1762,1982 1764.5,1981.9 1767.1,1981.9 1769.7,1981.9 1772.3,1981.8 1774.8,1981.8 1777.4,1981.8 1780,1981.7 1782.6,1981.7 1785.1,1981.7 1787.7,1981.6 1790.3,1981.6 1792.9,1981.6 1795.4,1981.5 1798,1981.5 1800.6,1981.5 1803.1,1981.4 1805.7,1981.4 1808.3,1981.4 1810.9,1981.3 1813.4,1981.3 1816,1981.3 1818.6,1981.2 1821.2,1981.2 1823.7,1981.2 1826.3,1981.2 1828.9,1981.1 1831.5,1981.1 1834,1981.1 1836.6,1981 1839.2,1981 1841.7,1981 1844.3,1980.9 1846.9,1980.9 1849.5,1980.9 1852,1980.8 1854.6,1980.8 1857.2,1980.8 1859.8,1980.7 1862.3,1980.7 1864.9,1980.7 1867.5,1980.6 1870.1,1980.6 1872.6,1980.6 1875.2,1980.5" fill="none" stroke="#C8355B" stroke-width="4.2" stroke-linejoin="round" stroke-linecap="round"/>
<polyline points="1095.4,2001.5 1166.3,2000 1308.1,1999.6 1310.2,1999.6 1311.6,1949.1 1314.5,1969.2 1318,1987 1322.3,1998.3 1326.9,2001.5 1332.9,2002.6 1875.2,2002.6" fill="none" stroke="#EBA273" stroke-width="4.2" stroke-linejoin="round" stroke-linecap="round"/>
<polyline points="1095.4,2002.6 1113.1,2000.9 1166.3,1998.7 1237.2,1997.9 1308.1,1997.5 1309.1,1997.5 1309.8,2002.6 1875.2,2002.6" fill="none" stroke="#4C7EC2" stroke-width="4.2" stroke-linejoin="round" stroke-linecap="round"/>
<polyline points="1095.4,2002.6 1097.2,1996.1 1099,1989.4 1100.7,1982.5 1102.5,1975.5 1104.3,1968.5 1106.1,1961.9 1107.8,1955.8 1109.6,1950 1111.4,1944.5 1113.2,1939.1 1115,1934 1116.7,1929 1118.5,1924.2 1120.3,1919.6 1122.1,1915.1 1123.9,1910.9 1125.6,1906.7 1127.4,1902.6 1129.2,1898.7 1131,1894.8 1132.7,1891.1 1134.5,1887.4 1136.3,1883.8 1138.1,1880.4 1139.9,1877.1 1141.6,1873.9 1143.4,1870.8 1145.2,1867.9 1147,1865 1148.7,1862.3 1150.5,1859.7 1152.3,1857.2 1154.1,1854.9 1155.9,1852.7 1157.6,1850.6 1159.4,1848.6 1161.2,1846.6 1163,1844.8 1164.8,1843 1166.5,1841.3 1168.3,1839.6 1170.1,1838 1171.9,1836.5 1173.6,1835 1175.4,1833.6 1177.2,1832.3 1179,1831 1180.8,1829.8 1182.5,1828.6 1184.3,1827.5 1186.1,1826.5 1187.9,1825.5 1189.6,1824.6 1191.4,1823.7 1193.2,1822.9 1195,1822.1 1196.8,1821.4 1198.5,1820.7 1200.3,1820 1202.1,1819.2 1203.9,1818.6 1205.7,1817.9 1207.4,1817.3 1209.2,1816.6 1211,1816 1212.8,1815.5 1214.5,1814.9 1216.3,1814.4 1218.1,1814 1219.9,1813.5 1221.7,1813.1 1223.4,1812.7 1225.2,1812.3 1227,1811.9 1228.8,1811.6 1230.5,1811.2 1232.3,1810.9 1234.1,1810.6 1235.9,1810.3 1237.7,1809.9 1239.4,1809.6 1241.2,1809.3 1243,1809 1244.8,1808.7 1246.5,1808.4 1248.3,1808.2 1250.1,1807.9 1251.9,1807.6 1253.7,1807.3 1255.4,1807.1 1257.2,1806.9 1259,1806.6 1260.8,1806.4 1262.6,1806.2 1264.3,1806.1 1266.1,1805.9 1267.9,1805.8 1269.7,1805.6 1271.4,1805.5 1273.2,1805.3 1275,1805.2 1276.8,1805.1 1278.6,1805 1280.3,1804.8 1282.1,1804.7 1283.9,1804.6 1285.7,1804.5 1287.4,1804.4 1289.2,1804.3 1291,1804.2 1292.8,1804 1294.6,1803.9 1296.3,1803.8 1298.1,1803.7 1299.9,1803.6 1301.7,1803.5 1303.5,1803.4 1305.2,1803.4 1307,1803.3 1308.8,1803.3 1309.1,2002.6 1875.2,2002.6" fill="none" stroke="#93DADF" stroke-width="4.2" stroke-linejoin="round" stroke-linecap="round"/>
<polyline points="1095.4,2002.6 1097.8,1995.6 1100.3,1965.5 1102.7,1924.9 1105.2,1887.4 1107.6,1852.1 1110.1,1820.7 1112.5,1792.6 1115,1767.3 1117.4,1749.3 1119.8,1736.4 1122.3,1728.6 1124.7,1723.3 1127.2,1719.6 1129.6,1717.2 1132.1,1715.7 1134.5,1714.7 1137,1714 1139.4,1713.5 1141.8,1713 1144.3,1712.7 1146.7,1712.3 1149.2,1712.1 1151.6,1711.8 1154.1,1711.6 1156.5,1711.4 1159,1711.2 1161.4,1711 1163.8,1710.9 1166.3,1710.8 1168.7,1710.9 1171.2,1713.3 1173.6,1716.3 1176.1,1718.3 1178.5,1720.1 1181,1721.9 1183.4,1723.5 1185.8,1725 1188.3,1726.4 1190.7,1728 1193.2,1730.1 1195.6,1732.7 1198.1,1735.7 1200.5,1738.9 1203,1741.9 1205.4,1744.7 1207.8,1747.3 1210.3,1749.8 1212.7,1752.2 1215.2,1754.6 1217.6,1757 1220.1,1759.5 1222.5,1762 1225,1764.5 1227.4,1766.9 1229.8,1769.3 1232.3,1771.4 1234.7,1773.4 1237.2,1775.4 1239.6,1777.3 1242.1,1779.1 1244.5,1780.7 1247,1782.3 1249.4,1783.8 1251.8,1785.2 1254.3,1786.6 1256.7,1787.8 1259.2,1789 1261.6,1790.2 1264.1,1791.2 1266.5,1792.3 1269,1793.2 1271.4,1794.2 1273.8,1795.2 1276.3,1796.2 1278.7,1797.1 1281.2,1798 1283.6,1798.9 1286.1,1799.8 1288.5,1800.7 1291,1801.6 1293.4,1802.5 1295.9,1803.3 1298.3,1804 1300.7,1804.8 1303.2,1805.7 1305.6,1806.7 1308.1,1807.8 1310.5,1809.3 1313,1811.5 1315.4,1814 1317.9,1816.7 1320.3,1819.8 1322.7,1823.2 1325.2,1826.5 1327.6,1829.7 1330.1,1833.1 1332.5,1836.2 1335,1839.1 1337.4,1841.7 1339.9,1844.2 1342.3,1846.6 1344.7,1849.2 1347.2,1851.8 1349.6,1854.3 1352.1,1856.3 1354.5,1858.1 1357,1859.7 1359.4,1861.2 1361.9,1862.7 1364.3,1864.3 1366.7,1865.9 1369.2,1867.5 1371.6,1869.2 1374.1,1870.8 1376.5,1872.5 1379,1874.1 1381.4,1875.8 1383.9,1877.5 1386.3,1879.3 1388.7,1881 1391.2,1882.7 1393.6,1884.4 1396.1,1886 1398.5,1887.6 1401,1889.2 1403.4,1890.8 1405.9,1892.3 1408.3,1893.9 1410.7,1895.4 1413.2,1896.9 1415.6,1898.4 1418.1,1899.8 1420.5,1901.2 1423,1902.6 1425.4,1903.9 1427.9,1905.2 1430.3,1906.4 1432.7,1907.5 1435.2,1908.7 1437.6,1909.7 1440.1,1910.8 1442.5,1911.8 1445,1912.9 1447.4,1913.9 1449.9,1914.9 1452.3,1915.8 1454.7,1916.8 1457.2,1917.8 1459.6,1918.8 1462.1,1919.8 1464.5,1920.8 1467,1921.9 1469.4,1922.9 1471.9,1923.9 1474.3,1924.9 1476.7,1926 1479.2,1927 1481.6,1928 1484.1,1928.9 1486.5,1929.9 1489,1930.9 1491.4,1931.8 1493.9,1932.7 1496.3,1933.6 1498.7,1934.4 1501.2,1935.3 1503.6,1936.1 1506.1,1936.9 1508.5,1937.7 1511,1938.5 1513.4,1939.3 1515.9,1940 1518.3,1940.8 1520.7,1941.5 1523.2,1942.3 1525.6,1943 1528.1,1943.8 1530.5,1944.5 1533,1945.2 1535.4,1945.9 1537.9,1946.6 1540.3,1947.4 1542.7,1948.1 1545.2,1948.8 1547.6,1949.5 1550.1,1950.2 1552.5,1950.9 1555,1951.5 1557.4,1952.2 1559.9,1952.9 1562.3,1953.5 1564.7,1954.2 1567.2,1954.8 1569.6,1955.5 1572.1,1956.1 1574.5,1956.7 1577,1957.4 1579.4,1958 1581.9,1958.6 1584.3,1959.2 1586.7,1959.8 1589.2,1960.4 1591.6,1961 1594.1,1961.6 1596.5,1962.3 1599,1962.9 1601.4,1963.5 1603.9,1964.1 1606.3,1964.7 1608.7,1965.3 1611.2,1965.9 1613.6,1966.5 1616.1,1967.1 1618.5,1967.7 1621,1968.3 1623.4,1968.8 1625.9,1969.3 1628.3,1969.9 1630.7,1970.4 1633.2,1970.9 1635.6,1971.3 1638.1,1971.8 1640.5,1972.2 1643,1972.7 1645.4,1973.1 1647.9,1973.5 1650.3,1973.9 1652.7,1974.3 1655.2,1974.7 1657.6,1975.1 1660.1,1975.5 1662.5,1976 1665,1976.4 1667.4,1976.8 1669.9,1977.2 1672.3,1977.6 1674.7,1978 1677.2,1978.4 1679.6,1978.8 1682.1,1979.2 1684.5,1979.6 1687,1980 1689.4,1980.4 1691.9,1980.7 1694.3,1981.1 1696.8,1981.5 1699.2,1981.8 1701.6,1982.2 1704.1,1982.5 1706.5,1982.8 1709,1983.2 1711.4,1983.5 1713.9,1983.8 1716.3,1984.1 1718.8,1984.4 1721.2,1984.7 1723.6,1985 1726.1,1985.3 1728.5,1985.6 1731,1985.9 1733.4,1986.2 1735.9,1986.5 1738.3,1986.7 1740.8,1987 1743.2,1987.3 1745.6,1987.5 1748.1,1987.8 1750.5,1988 1753,1988.3 1755.4,1988.5 1757.9,1988.8 1760.3,1989 1762.8,1989.2 1765.2,1989.5 1767.6,1989.7 1770.1,1989.9 1772.5,1990.1 1775,1990.3 1777.4,1990.5 1779.9,1990.7 1782.3,1990.9 1784.8,1991.1 1787.2,1991.3 1789.6,1991.5 1792.1,1991.6 1794.5,1991.8 1797,1992 1799.4,1992.1 1801.9,1992.3 1804.3,1992.5 1806.8,1992.6 1809.2,1992.8 1811.6,1993 1814.1,1993.1 1816.5,1993.3 1819,1993.5 1821.4,1993.6 1823.9,1993.8 1826.3,1993.9 1828.8,1994.1 1831.2,1994.2 1833.6,1994.4 1836.1,1994.5 1838.5,1994.6 1841,1994.7 1843.4,1994.8 1845.9,1994.9 1848.3,1995 1850.8,1995.1 1853.2,1995.2 1855.6,1995.2 1858.1,1995.3 1860.5,1995.4 1863,1995.5 1865.4,1995.5 1867.9,1995.6 1870.3,1995.7 1872.8,1995.7 1875.2,1995.7" fill="none" stroke="#A0509F" stroke-width="4.2" stroke-linejoin="round" stroke-linecap="round"/>
<polyline points="1095.4,2002.6 1097.8,1958.5 1100.3,1914.9 1102.7,1880.6 1105.2,1838.4 1107.6,1794.9 1110.1,1751.8 1112.5,1709 1115,1669.6 1117.4,1646.5 1119.8,1632.8 1122.3,1624.1 1124.7,1619.9 1127.2,1617.1 1129.6,1615.4 1132.1,1614.3 1134.5,1613.4 1137,1612.8 1139.4,1612.2 1141.8,1611.9 1144.3,1611.5 1146.7,1611.2 1149.2,1611 1151.6,1610.7 1154.1,1610.5 1156.5,1610.3 1159,1610.2 1161.4,1610 1163.8,1609.9 1166.3,1609.8 1168.7,1609.7 1171.2,1609.5 1173.6,1609.4 1176.1,1609.3 1178.5,1609.2 1181,1609.2 1183.4,1609.1 1185.8,1609 1188.3,1608.9 1190.7,1608.8 1193.2,1608.8 1195.6,1608.7 1198.1,1608.6 1200.5,1608.6 1203,1608.5 1205.4,1608.5 1207.8,1608.4 1210.3,1608.4 1212.7,1608.3 1215.2,1608.3 1217.6,1608.2 1220.1,1608.2 1222.5,1608.2 1225,1608.1 1227.4,1608.1 1229.8,1608.1 1232.3,1608 1234.7,1608 1237.2,1607.9 1239.6,1607.9 1242.1,1607.9 1244.5,1607.8 1247,1607.8 1249.4,1607.8 1251.8,1607.8 1254.3,1607.7 1256.7,1607.7 1259.2,1607.7 1261.6,1607.6 1264.1,1607.6 1266.5,1607.6 1269,1607.6 1271.4,1607.5 1273.8,1607.5 1276.3,1607.5 1278.7,1607.5 1281.2,1607.5 1283.6,1607.5 1286.1,1607.4 1288.5,1607.4 1291,1607.4 1293.4,1607.4 1295.9,1607.4 1298.3,1607.4 1300.7,1607.4 1303.2,1607.4 1305.6,1607.4 1308.1,1607.4 1310.5,1607.4 1313,1609 1315.4,1615.2 1317.9,1622.6 1320.3,1628.2 1322.7,1633.6 1325.2,1638.8 1327.6,1643.9 1330.1,1648.8 1332.5,1653.6 1335,1658.4 1337.4,1663 1339.9,1667.6 1342.3,1672.1 1344.7,1676.5 1347.2,1680.8 1349.6,1685.1 1352.1,1689.3 1354.5,1693.3 1357,1697.3 1359.4,1701.2 1361.9,1705 1364.3,1708.8 1366.7,1712.5 1369.2,1716.1 1371.6,1719.6 1374.1,1723.1 1376.5,1726.6 1379,1730 1381.4,1733.4 1383.9,1736.7 1386.3,1740 1388.7,1743.3 1391.2,1746.6 1393.6,1749.8 1396.1,1753 1398.5,1756.1 1401,1759.2 1403.4,1762.3 1405.9,1765.3 1408.3,1768.3 1410.7,1771.2 1413.2,1774.1 1415.6,1777 1418.1,1779.8 1420.5,1782.7 1423,1785.5 1425.4,1788.2 1427.9,1790.9 1430.3,1793.6 1432.7,1796.3 1435.2,1798.9 1437.6,1801.5 1440.1,1804 1442.5,1806.5 1445,1808.9 1447.4,1811.3 1449.9,1813.7 1452.3,1816 1454.7,1818.3 1457.2,1820.6 1459.6,1822.8 1462.1,1825 1464.5,1827.2 1467,1829.3 1469.4,1831.4 1471.9,1833.5 1474.3,1835.6 1476.7,1837.6 1479.2,1839.6 1481.6,1841.6 1484.1,1843.5 1486.5,1845.5 1489,1847.4 1491.4,1849.2 1493.9,1851.1 1496.3,1852.9 1498.7,1854.7 1501.2,1856.5 1503.6,1858.3 1506.1,1860 1508.5,1861.8 1511,1863.5 1513.4,1865.2 1515.9,1866.9 1518.3,1868.6 1520.7,1870.3 1523.2,1871.9 1525.6,1873.6 1528.1,1875.2 1530.5,1876.8 1533,1878.4 1535.4,1879.9 1537.9,1881.5 1540.3,1883 1542.7,1884.6 1545.2,1886.1 1547.6,1887.6 1550.1,1889.1 1552.5,1890.5 1555,1891.9 1557.4,1893.4 1559.9,1894.8 1562.3,1896.2 1564.7,1897.7 1567.2,1899.1 1569.6,1900.6 1572.1,1902 1574.5,1903.5 1577,1905 1579.4,1906.4 1581.9,1907.8 1584.3,1909.2 1586.7,1910.6 1589.2,1912 1591.6,1913.4 1594.1,1914.7 1596.5,1915.9 1599,1917.2 1601.4,1918.5 1603.9,1919.7 1606.3,1921 1608.7,1922.2 1611.2,1923.4 1613.6,1924.6 1616.1,1925.8 1618.5,1926.9 1621,1928 1623.4,1929.1 1625.9,1930.2 1628.3,1931.2 1630.7,1932.1 1633.2,1933.1 1635.6,1934 1638.1,1934.9 1640.5,1935.7 1643,1936.6 1645.4,1937.4 1647.9,1938.2 1650.3,1939 1652.7,1939.8 1655.2,1940.5 1657.6,1941.3 1660.1,1942 1662.5,1942.8 1665,1943.5 1667.4,1944.2 1669.9,1944.9 1672.3,1945.6 1674.7,1946.3 1677.2,1947 1679.6,1947.7 1682.1,1948.4 1684.5,1949 1687,1949.6 1689.4,1950.3 1691.9,1950.9 1694.3,1951.5 1696.8,1952.1 1699.2,1952.7 1701.6,1953.2 1704.1,1953.8 1706.5,1954.3 1709,1954.8 1711.4,1955.3 1713.9,1955.8 1716.3,1956.3 1718.8,1956.8 1721.2,1957.3 1723.6,1957.8 1726.1,1958.2 1728.5,1958.7 1731,1959.2 1733.4,1959.6 1735.9,1960.1 1738.3,1960.5 1740.8,1961 1743.2,1961.4 1745.6,1961.9 1748.1,1962.3 1750.5,1962.7 1753,1963.2 1755.4,1963.6 1757.9,1964 1760.3,1964.4 1762.8,1964.8 1765.2,1965.2 1767.6,1965.7 1770.1,1966.1 1772.5,1966.5 1775,1966.8 1777.4,1967.2 1779.9,1967.6 1782.3,1968 1784.8,1968.4 1787.2,1968.8 1789.6,1969.2 1792.1,1969.5 1794.5,1969.9 1797,1970.3 1799.4,1970.6 1801.9,1971 1804.3,1971.3 1806.8,1971.6 1809.2,1972 1811.6,1972.3 1814.1,1972.6 1816.5,1972.9 1819,1973.3 1821.4,1973.6 1823.9,1973.9 1826.3,1974.2 1828.8,1974.5 1831.2,1974.8 1833.6,1975.1 1836.1,1975.3 1838.5,1975.6 1841,1975.9 1843.4,1976.1 1845.9,1976.4 1848.3,1976.6 1850.8,1976.9 1853.2,1977.1 1855.6,1977.3 1858.1,1977.6 1860.5,1977.8 1863,1978 1865.4,1978.2 1867.9,1978.5 1870.3,1978.7 1872.8,1978.9 1875.2,1979" fill="none" stroke="#198379" stroke-width="4.6" stroke-linejoin="round" stroke-linecap="butt" stroke-dasharray="18.6 5.8"/>
</g>
<rect x="1095.4" y="1574.4" width="779.8" height="428.2" fill="none" stroke="#1a1a1a" stroke-width="2"/>
<path d="M1095.4 2002.6h-12.6M1095.4 1949.1h-8.5M1095.4 1895.5h-12.6M1095.4 1842h-8.5M1095.4 1788.5h-12.6M1095.4 1735h-8.5M1095.4 1681.5h-12.6M1095.4 1627.9h-8.5M1095.4 1574.4h-12.6M1875.2 2002.6h13M1875.2 1895.5h13M1875.2 1788.5h13M1875.2 1681.5h13M1875.2 1574.4h13M1095.4 2002.6v12.6M1166.3 2002.6v8.5M1237.2 2002.6v12.6M1308.1 2002.6v8.5M1379 2002.6v12.6M1449.9 2002.6v8.5M1520.7 2002.6v12.6M1591.6 2002.6v8.5M1662.5 2002.6v12.6M1733.4 2002.6v8.5M1804.3 2002.6v12.6M1875.2 2002.6v8.5" stroke="#1a1a1a" stroke-width="2" fill="none"/>
<text x="1072" y="2015.7" font-size="36" text-anchor="end" fill="#000">0.0</text>
<text x="1897" y="2015.7" font-size="36" text-anchor="start" fill="#000">0.0</text>
<text x="1072" y="1908.6" font-size="36" text-anchor="end" fill="#000">0.5</text>
<text x="1897" y="1908.6" font-size="36" text-anchor="start" fill="#000">2.5</text>
<text x="1072" y="1801.6" font-size="36" text-anchor="end" fill="#000">1.0</text>
<text x="1897" y="1801.6" font-size="36" text-anchor="start" fill="#000">5.0</text>
<text x="1072" y="1694.5" font-size="36" text-anchor="end" fill="#000">1.5</text>
<text x="1897" y="1694.5" font-size="36" text-anchor="start" fill="#000">7.5</text>
<text x="1072" y="1587.5" font-size="36" text-anchor="end" fill="#000">2.0</text>
<text x="1897" y="1587.5" font-size="36" text-anchor="start" fill="#000">10.0</text>
<text x="1095.4" y="2052.6" font-size="36" text-anchor="middle" fill="#000">0</text>
<text x="1237.2" y="2052.6" font-size="36" text-anchor="middle" fill="#000">4</text>
<text x="1379" y="2052.6" font-size="36" text-anchor="middle" fill="#000">8</text>
<text x="1520.7" y="2052.6" font-size="36" text-anchor="middle" fill="#000">12</text>
<text x="1662.5" y="2052.6" font-size="36" text-anchor="middle" fill="#000">16</text>
<text x="1804.3" y="2052.6" font-size="36" text-anchor="middle" fill="#000">20</text>
<text transform="translate(998.6 1789.5) rotate(-90)" font-size="46" text-anchor="middle">Concentration [nM]</text>
<text transform="translate(1969.6 1789) rotate(90)" font-size="43.5" text-anchor="middle"><tspan font-style="italic" font-size="45">s</tspan><tspan font-size="28.5" dy="9" font-style="italic">a</tspan><tspan dy="-9"> [nM]</tspan></text>
<text x="1015" y="1555" font-size="28">x10<tspan font-size="19" dy="-10.9" dx="0.5">3</tspan></text>
<text x="1485.8" y="1611.5" font-size="32" text-anchor="start" fill="#000">1 &#181;M 3O-C12-HSL</text>
<path d="M1789 1598.4H1824.5" stroke="#C8355B" stroke-width="4.2"/>
<text x="1836.5" y="1603.4" font-size="28.7" text-anchor="start" fill="#000" font-style="italic">r<tspan font-size="20.5" dy="6">1</tspan></text>
<path d="M1789 1626.6H1824.5" stroke="#EBA273" stroke-width="4.2"/>
<text x="1836.5" y="1631.6" font-size="28.7" text-anchor="start" fill="#000" font-style="italic">r<tspan font-size="20.5" dy="6">2</tspan></text>
<path d="M1789 1654.8H1824.5" stroke="#4C7EC2" stroke-width="4.2"/>
<text x="1836.5" y="1659.8" font-size="28.7" text-anchor="start" fill="#000" font-style="italic">r<tspan font-size="20.5" dy="6">3</tspan></text>
<path d="M1789 1683H1824.5" stroke="#93DADF" stroke-width="4.2"/>
<text x="1836.5" y="1688" font-size="28.7" text-anchor="start" fill="#000" font-style="italic">r<tspan font-size="20.5" dy="6">4</tspan></text>
<path d="M1789 1711.2H1824.5" stroke="#198379" stroke-width="4.2" stroke-dasharray="15.3 4.9"/>
<text x="1836.5" y="1716.2" font-size="28.7" text-anchor="start" fill="#000" font-style="italic">s<tspan font-size="20.5" dy="6">a</tspan></text>
<path d="M1789 1739.4H1824.5" stroke="#A0509F" stroke-width="4.2"/>
<text x="1836.5" y="1747.1" font-size="28.7" text-anchor="start" fill="#000" font-style="italic">n</text>
<text x="1484.5" y="2105.5" font-size="45.5" text-anchor="middle" fill="#000">Time [h]</text>
</g>
</svg>
</body></html>
